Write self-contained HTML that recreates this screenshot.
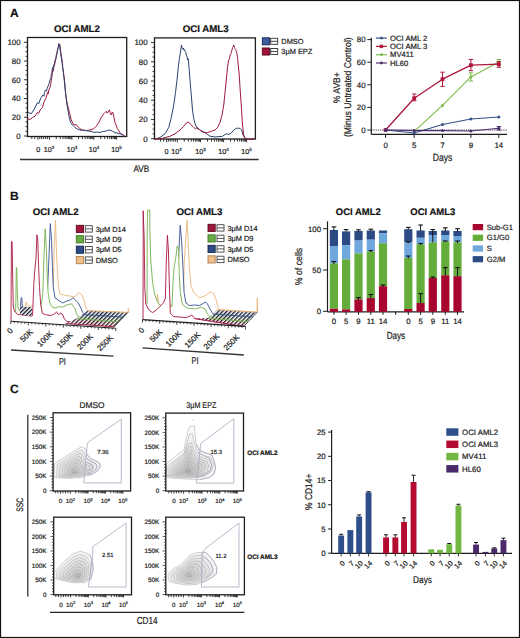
<!DOCTYPE html>
<html><head><meta charset="utf-8"><style>
html,body{margin:0;padding:0;background:#fff;}
svg{display:block;}
text{font-family:"Liberation Sans",sans-serif;text-rendering:geometricPrecision;stroke:#1c1c1c;stroke-width:0.2px;}
</style></head><body>
<svg width="520" height="638" viewBox="0 0 520 638">
<rect width="520" height="638" fill="#fff"/>
<rect x="0.50" y="0.50" width="519.00" height="637.00" fill="none" stroke="#111" stroke-width="1.2" />
<text x="10.00" y="16.60" font-size="12" text-anchor="start" font-weight="bold" fill="#111" >A</text>
<text x="76.90" y="32.20" font-size="9.7" text-anchor="middle" font-weight="bold" fill="#111" >OCI AML2</text>
<text x="205.70" y="32.20" font-size="9.7" text-anchor="middle" font-weight="bold" fill="#111" >OCI AML3</text>
<rect x="27.50" y="37.50" width="99.20" height="99.00" fill="none" stroke="#1e1e1e" stroke-width="1.3" />
<line x1="24.00" y1="136.00" x2="27.50" y2="136.00" stroke="#1e1e1e" stroke-width="0.9" />
<text x="20.60" y="138.80" font-size="7.9" text-anchor="end" font-weight="normal" fill="#222" >0</text>
<line x1="25.50" y1="131.31" x2="27.50" y2="131.31" stroke="#1e1e1e" stroke-width="0.9" />
<line x1="25.50" y1="126.63" x2="27.50" y2="126.63" stroke="#1e1e1e" stroke-width="0.9" />
<line x1="25.50" y1="121.94" x2="27.50" y2="121.94" stroke="#1e1e1e" stroke-width="0.9" />
<line x1="24.00" y1="117.26" x2="27.50" y2="117.26" stroke="#1e1e1e" stroke-width="0.9" />
<text x="20.60" y="120.06" font-size="7.9" text-anchor="end" font-weight="normal" fill="#222" >20</text>
<line x1="25.50" y1="112.58" x2="27.50" y2="112.58" stroke="#1e1e1e" stroke-width="0.9" />
<line x1="25.50" y1="107.89" x2="27.50" y2="107.89" stroke="#1e1e1e" stroke-width="0.9" />
<line x1="25.50" y1="103.20" x2="27.50" y2="103.20" stroke="#1e1e1e" stroke-width="0.9" />
<line x1="24.00" y1="98.52" x2="27.50" y2="98.52" stroke="#1e1e1e" stroke-width="0.9" />
<text x="20.60" y="101.32" font-size="7.9" text-anchor="end" font-weight="normal" fill="#222" >40</text>
<line x1="25.50" y1="93.84" x2="27.50" y2="93.84" stroke="#1e1e1e" stroke-width="0.9" />
<line x1="25.50" y1="89.15" x2="27.50" y2="89.15" stroke="#1e1e1e" stroke-width="0.9" />
<line x1="25.50" y1="84.47" x2="27.50" y2="84.47" stroke="#1e1e1e" stroke-width="0.9" />
<line x1="24.00" y1="79.78" x2="27.50" y2="79.78" stroke="#1e1e1e" stroke-width="0.9" />
<text x="20.60" y="82.58" font-size="7.9" text-anchor="end" font-weight="normal" fill="#222" >60</text>
<line x1="25.50" y1="75.09" x2="27.50" y2="75.09" stroke="#1e1e1e" stroke-width="0.9" />
<line x1="25.50" y1="70.41" x2="27.50" y2="70.41" stroke="#1e1e1e" stroke-width="0.9" />
<line x1="25.50" y1="65.72" x2="27.50" y2="65.72" stroke="#1e1e1e" stroke-width="0.9" />
<line x1="24.00" y1="61.04" x2="27.50" y2="61.04" stroke="#1e1e1e" stroke-width="0.9" />
<text x="20.60" y="63.84" font-size="7.9" text-anchor="end" font-weight="normal" fill="#222" >80</text>
<line x1="25.50" y1="56.36" x2="27.50" y2="56.36" stroke="#1e1e1e" stroke-width="0.9" />
<line x1="25.50" y1="51.67" x2="27.50" y2="51.67" stroke="#1e1e1e" stroke-width="0.9" />
<line x1="25.50" y1="46.98" x2="27.50" y2="46.98" stroke="#1e1e1e" stroke-width="0.9" />
<line x1="24.00" y1="42.30" x2="27.50" y2="42.30" stroke="#1e1e1e" stroke-width="0.9" />
<text x="20.60" y="45.10" font-size="7.9" text-anchor="end" font-weight="normal" fill="#222" >100</text>
<rect x="154.50" y="37.90" width="100.90" height="101.10" fill="none" stroke="#1e1e1e" stroke-width="1.3" />
<line x1="151.00" y1="138.70" x2="154.50" y2="138.70" stroke="#1e1e1e" stroke-width="0.9" />
<text x="147.60" y="141.50" font-size="7.9" text-anchor="end" font-weight="normal" fill="#222" >0</text>
<line x1="152.50" y1="133.89" x2="154.50" y2="133.89" stroke="#1e1e1e" stroke-width="0.9" />
<line x1="152.50" y1="129.09" x2="154.50" y2="129.09" stroke="#1e1e1e" stroke-width="0.9" />
<line x1="152.50" y1="124.28" x2="154.50" y2="124.28" stroke="#1e1e1e" stroke-width="0.9" />
<line x1="151.00" y1="119.48" x2="154.50" y2="119.48" stroke="#1e1e1e" stroke-width="0.9" />
<text x="147.60" y="122.28" font-size="7.9" text-anchor="end" font-weight="normal" fill="#222" >20</text>
<line x1="152.50" y1="114.67" x2="154.50" y2="114.67" stroke="#1e1e1e" stroke-width="0.9" />
<line x1="152.50" y1="109.87" x2="154.50" y2="109.87" stroke="#1e1e1e" stroke-width="0.9" />
<line x1="152.50" y1="105.06" x2="154.50" y2="105.06" stroke="#1e1e1e" stroke-width="0.9" />
<line x1="151.00" y1="100.26" x2="154.50" y2="100.26" stroke="#1e1e1e" stroke-width="0.9" />
<text x="147.60" y="103.06" font-size="7.9" text-anchor="end" font-weight="normal" fill="#222" >40</text>
<line x1="152.50" y1="95.45" x2="154.50" y2="95.45" stroke="#1e1e1e" stroke-width="0.9" />
<line x1="152.50" y1="90.65" x2="154.50" y2="90.65" stroke="#1e1e1e" stroke-width="0.9" />
<line x1="152.50" y1="85.84" x2="154.50" y2="85.84" stroke="#1e1e1e" stroke-width="0.9" />
<line x1="151.00" y1="81.04" x2="154.50" y2="81.04" stroke="#1e1e1e" stroke-width="0.9" />
<text x="147.60" y="83.84" font-size="7.9" text-anchor="end" font-weight="normal" fill="#222" >60</text>
<line x1="152.50" y1="76.23" x2="154.50" y2="76.23" stroke="#1e1e1e" stroke-width="0.9" />
<line x1="152.50" y1="71.43" x2="154.50" y2="71.43" stroke="#1e1e1e" stroke-width="0.9" />
<line x1="152.50" y1="66.62" x2="154.50" y2="66.62" stroke="#1e1e1e" stroke-width="0.9" />
<line x1="151.00" y1="61.82" x2="154.50" y2="61.82" stroke="#1e1e1e" stroke-width="0.9" />
<text x="147.60" y="64.62" font-size="7.9" text-anchor="end" font-weight="normal" fill="#222" >80</text>
<line x1="152.50" y1="57.02" x2="154.50" y2="57.02" stroke="#1e1e1e" stroke-width="0.9" />
<line x1="152.50" y1="52.21" x2="154.50" y2="52.21" stroke="#1e1e1e" stroke-width="0.9" />
<line x1="152.50" y1="47.40" x2="154.50" y2="47.40" stroke="#1e1e1e" stroke-width="0.9" />
<line x1="151.00" y1="42.60" x2="154.50" y2="42.60" stroke="#1e1e1e" stroke-width="0.9" />
<text x="147.60" y="45.40" font-size="7.9" text-anchor="end" font-weight="normal" fill="#222" >100</text>
<line x1="37.80" y1="136.50" x2="37.80" y2="139.70" stroke="#1e1e1e" stroke-width="0.9" />
<line x1="49.50" y1="136.50" x2="49.50" y2="139.70" stroke="#1e1e1e" stroke-width="0.9" />
<line x1="71.90" y1="136.50" x2="71.90" y2="139.70" stroke="#1e1e1e" stroke-width="0.9" />
<line x1="93.90" y1="136.50" x2="93.90" y2="139.70" stroke="#1e1e1e" stroke-width="0.9" />
<line x1="116.60" y1="136.50" x2="116.60" y2="139.70" stroke="#1e1e1e" stroke-width="0.9" />
<line x1="39.75" y1="136.50" x2="39.75" y2="139.10" stroke="#1e1e1e" stroke-width="0.9" />
<line x1="41.70" y1="136.50" x2="41.70" y2="139.10" stroke="#1e1e1e" stroke-width="0.9" />
<line x1="43.65" y1="136.50" x2="43.65" y2="139.10" stroke="#1e1e1e" stroke-width="0.9" />
<line x1="45.60" y1="136.50" x2="45.60" y2="139.10" stroke="#1e1e1e" stroke-width="0.9" />
<line x1="47.55" y1="136.50" x2="47.55" y2="139.10" stroke="#1e1e1e" stroke-width="0.9" />
<line x1="56.24" y1="136.50" x2="56.24" y2="139.10" stroke="#1e1e1e" stroke-width="0.9" />
<line x1="60.19" y1="136.50" x2="60.19" y2="139.10" stroke="#1e1e1e" stroke-width="0.9" />
<line x1="62.99" y1="136.50" x2="62.99" y2="139.10" stroke="#1e1e1e" stroke-width="0.9" />
<line x1="65.16" y1="136.50" x2="65.16" y2="139.10" stroke="#1e1e1e" stroke-width="0.9" />
<line x1="66.93" y1="136.50" x2="66.93" y2="139.10" stroke="#1e1e1e" stroke-width="0.9" />
<line x1="68.43" y1="136.50" x2="68.43" y2="139.10" stroke="#1e1e1e" stroke-width="0.9" />
<line x1="69.73" y1="136.50" x2="69.73" y2="139.10" stroke="#1e1e1e" stroke-width="0.9" />
<line x1="70.88" y1="136.50" x2="70.88" y2="139.10" stroke="#1e1e1e" stroke-width="0.9" />
<line x1="78.52" y1="136.50" x2="78.52" y2="139.10" stroke="#1e1e1e" stroke-width="0.9" />
<line x1="82.40" y1="136.50" x2="82.40" y2="139.10" stroke="#1e1e1e" stroke-width="0.9" />
<line x1="85.15" y1="136.50" x2="85.15" y2="139.10" stroke="#1e1e1e" stroke-width="0.9" />
<line x1="87.28" y1="136.50" x2="87.28" y2="139.10" stroke="#1e1e1e" stroke-width="0.9" />
<line x1="89.02" y1="136.50" x2="89.02" y2="139.10" stroke="#1e1e1e" stroke-width="0.9" />
<line x1="90.49" y1="136.50" x2="90.49" y2="139.10" stroke="#1e1e1e" stroke-width="0.9" />
<line x1="91.77" y1="136.50" x2="91.77" y2="139.10" stroke="#1e1e1e" stroke-width="0.9" />
<line x1="92.89" y1="136.50" x2="92.89" y2="139.10" stroke="#1e1e1e" stroke-width="0.9" />
<line x1="100.73" y1="136.50" x2="100.73" y2="139.10" stroke="#1e1e1e" stroke-width="0.9" />
<line x1="104.73" y1="136.50" x2="104.73" y2="139.10" stroke="#1e1e1e" stroke-width="0.9" />
<line x1="107.57" y1="136.50" x2="107.57" y2="139.10" stroke="#1e1e1e" stroke-width="0.9" />
<line x1="109.77" y1="136.50" x2="109.77" y2="139.10" stroke="#1e1e1e" stroke-width="0.9" />
<line x1="111.56" y1="136.50" x2="111.56" y2="139.10" stroke="#1e1e1e" stroke-width="0.9" />
<line x1="113.08" y1="136.50" x2="113.08" y2="139.10" stroke="#1e1e1e" stroke-width="0.9" />
<line x1="114.40" y1="136.50" x2="114.40" y2="139.10" stroke="#1e1e1e" stroke-width="0.9" />
<line x1="115.56" y1="136.50" x2="115.56" y2="139.10" stroke="#1e1e1e" stroke-width="0.9" />
<line x1="34.80" y1="136.50" x2="34.80" y2="139.10" stroke="#1e1e1e" stroke-width="0.9" />
<line x1="31.80" y1="136.50" x2="31.80" y2="139.10" stroke="#1e1e1e" stroke-width="0.9" />
<text x="38.30" y="151.80" font-size="7.2" text-anchor="middle" font-weight="normal" fill="#222" >0</text>
<text x="49.00" y="151.80" font-size="7.2" text-anchor="middle" fill="#222">10<tspan font-size="4.46" dy="-2.88">2</tspan></text>
<text x="71.90" y="151.80" font-size="7.2" text-anchor="middle" fill="#222">10<tspan font-size="4.46" dy="-2.88">3</tspan></text>
<text x="93.90" y="151.80" font-size="7.2" text-anchor="middle" fill="#222">10<tspan font-size="4.46" dy="-2.88">4</tspan></text>
<text x="116.60" y="151.80" font-size="7.2" text-anchor="middle" fill="#222">10<tspan font-size="4.46" dy="-2.88">5</tspan></text>
<line x1="166.60" y1="139.00" x2="166.60" y2="142.20" stroke="#1e1e1e" stroke-width="0.9" />
<line x1="177.30" y1="139.00" x2="177.30" y2="142.20" stroke="#1e1e1e" stroke-width="0.9" />
<line x1="200.50" y1="139.00" x2="200.50" y2="142.20" stroke="#1e1e1e" stroke-width="0.9" />
<line x1="223.60" y1="139.00" x2="223.60" y2="142.20" stroke="#1e1e1e" stroke-width="0.9" />
<line x1="246.60" y1="139.00" x2="246.60" y2="142.20" stroke="#1e1e1e" stroke-width="0.9" />
<line x1="168.38" y1="139.00" x2="168.38" y2="141.60" stroke="#1e1e1e" stroke-width="0.9" />
<line x1="170.17" y1="139.00" x2="170.17" y2="141.60" stroke="#1e1e1e" stroke-width="0.9" />
<line x1="171.95" y1="139.00" x2="171.95" y2="141.60" stroke="#1e1e1e" stroke-width="0.9" />
<line x1="173.73" y1="139.00" x2="173.73" y2="141.60" stroke="#1e1e1e" stroke-width="0.9" />
<line x1="175.52" y1="139.00" x2="175.52" y2="141.60" stroke="#1e1e1e" stroke-width="0.9" />
<line x1="184.28" y1="139.00" x2="184.28" y2="141.60" stroke="#1e1e1e" stroke-width="0.9" />
<line x1="188.37" y1="139.00" x2="188.37" y2="141.60" stroke="#1e1e1e" stroke-width="0.9" />
<line x1="191.27" y1="139.00" x2="191.27" y2="141.60" stroke="#1e1e1e" stroke-width="0.9" />
<line x1="193.52" y1="139.00" x2="193.52" y2="141.60" stroke="#1e1e1e" stroke-width="0.9" />
<line x1="195.35" y1="139.00" x2="195.35" y2="141.60" stroke="#1e1e1e" stroke-width="0.9" />
<line x1="196.91" y1="139.00" x2="196.91" y2="141.60" stroke="#1e1e1e" stroke-width="0.9" />
<line x1="198.25" y1="139.00" x2="198.25" y2="141.60" stroke="#1e1e1e" stroke-width="0.9" />
<line x1="199.44" y1="139.00" x2="199.44" y2="141.60" stroke="#1e1e1e" stroke-width="0.9" />
<line x1="207.45" y1="139.00" x2="207.45" y2="141.60" stroke="#1e1e1e" stroke-width="0.9" />
<line x1="211.52" y1="139.00" x2="211.52" y2="141.60" stroke="#1e1e1e" stroke-width="0.9" />
<line x1="214.41" y1="139.00" x2="214.41" y2="141.60" stroke="#1e1e1e" stroke-width="0.9" />
<line x1="216.65" y1="139.00" x2="216.65" y2="141.60" stroke="#1e1e1e" stroke-width="0.9" />
<line x1="218.48" y1="139.00" x2="218.48" y2="141.60" stroke="#1e1e1e" stroke-width="0.9" />
<line x1="220.02" y1="139.00" x2="220.02" y2="141.60" stroke="#1e1e1e" stroke-width="0.9" />
<line x1="221.36" y1="139.00" x2="221.36" y2="141.60" stroke="#1e1e1e" stroke-width="0.9" />
<line x1="222.54" y1="139.00" x2="222.54" y2="141.60" stroke="#1e1e1e" stroke-width="0.9" />
<line x1="230.52" y1="139.00" x2="230.52" y2="141.60" stroke="#1e1e1e" stroke-width="0.9" />
<line x1="234.57" y1="139.00" x2="234.57" y2="141.60" stroke="#1e1e1e" stroke-width="0.9" />
<line x1="237.45" y1="139.00" x2="237.45" y2="141.60" stroke="#1e1e1e" stroke-width="0.9" />
<line x1="239.68" y1="139.00" x2="239.68" y2="141.60" stroke="#1e1e1e" stroke-width="0.9" />
<line x1="241.50" y1="139.00" x2="241.50" y2="141.60" stroke="#1e1e1e" stroke-width="0.9" />
<line x1="243.04" y1="139.00" x2="243.04" y2="141.60" stroke="#1e1e1e" stroke-width="0.9" />
<line x1="244.37" y1="139.00" x2="244.37" y2="141.60" stroke="#1e1e1e" stroke-width="0.9" />
<line x1="245.55" y1="139.00" x2="245.55" y2="141.60" stroke="#1e1e1e" stroke-width="0.9" />
<line x1="163.60" y1="139.00" x2="163.60" y2="141.60" stroke="#1e1e1e" stroke-width="0.9" />
<line x1="160.60" y1="139.00" x2="160.60" y2="141.60" stroke="#1e1e1e" stroke-width="0.9" />
<text x="166.60" y="154.30" font-size="7.2" text-anchor="middle" font-weight="normal" fill="#222" >0</text>
<text x="176.60" y="154.30" font-size="7.2" text-anchor="middle" fill="#222">10<tspan font-size="4.46" dy="-2.88">2</tspan></text>
<text x="200.50" y="154.30" font-size="7.2" text-anchor="middle" fill="#222">10<tspan font-size="4.46" dy="-2.88">3</tspan></text>
<text x="223.60" y="154.30" font-size="7.2" text-anchor="middle" fill="#222">10<tspan font-size="4.46" dy="-2.88">4</tspan></text>
<text x="246.60" y="154.30" font-size="7.2" text-anchor="middle" fill="#222">10<tspan font-size="4.46" dy="-2.88">5</tspan></text>
<line x1="20.00" y1="159.50" x2="258.70" y2="159.50" stroke="#333" stroke-width="1.3" />
<text x="141.30" y="172.40" font-size="9.6" text-anchor="middle" font-weight="normal" fill="#222" textLength="15.8" lengthAdjust="spacingAndGlyphs">AVB</text>
<path d="M27.00,118.75 L30.00,119.50 L32.50,117.50 L35.00,116.25 L37.50,112.50 L38.75,113.25 L40.00,110.00 L42.50,107.50 L43.75,102.50 L45.00,100.00 L46.25,97.50 L47.50,92.50 L48.25,93.75 L48.75,90.00 L50.00,87.50 L50.75,83.75 L51.25,80.00 L52.00,76.25 L52.50,70.00 L53.25,71.25 L53.75,67.50 L54.50,65.00 L55.50,60.00 L56.50,56.25 L57.50,50.00 L58.25,47.50 L59.00,43.75 L60.00,45.00 L60.50,50.00 L61.25,55.00 L62.00,60.00 L62.50,67.50 L63.25,70.00 L63.75,75.00 L64.50,80.00 L65.50,92.50 L66.50,100.00 L67.50,105.00 L69.50,112.50 L71.25,120.00 L73.00,123.75 L75.00,125.00 L76.25,124.50 L77.50,126.25 L80.00,128.75 L82.50,130.00 L86.25,130.50 L90.00,130.00 L93.75,128.75 L96.25,126.25 L98.75,122.50 L101.25,117.50 L103.75,113.75 L105.00,112.50 L106.25,111.25 L107.00,113.00 L108.00,112.50 L108.75,110.50 L109.50,110.00 L110.50,113.75 L111.25,115.00 L112.00,112.50 L113.00,112.50 L114.00,117.50 L115.00,122.50 L117.50,128.75 L120.00,132.50 L122.50,135.00 L125.00,136.25" stroke="#a01a3c" stroke-width="1.0" fill="none" stroke-linejoin="round" />
<path d="M27.00,113.75 L28.75,112.50 L31.25,113.75 L33.75,110.00 L36.25,105.00 L37.50,102.50 L38.75,103.75 L40.00,100.00 L41.25,97.50 L43.00,95.00 L44.00,96.25 L44.50,92.50 L45.50,90.00 L46.50,91.25 L47.00,88.75 L48.00,86.25 L49.00,83.75 L50.00,80.00 L50.75,78.75 L51.25,75.00 L52.00,72.50 L52.50,67.50 L53.25,68.75 L53.75,65.00 L54.50,63.75 L55.00,60.00 L55.75,59.50 L56.25,55.00 L57.00,53.75 L57.50,50.00 L58.25,47.50 L58.75,43.75 L59.50,44.50 L60.00,48.75 L60.50,52.50 L61.25,57.50 L62.00,62.50 L62.50,63.75 L63.00,70.00 L64.00,77.50 L65.50,92.50 L67.00,105.00 L68.75,115.00 L70.50,122.50 L72.50,125.00 L75.00,127.50 L77.50,129.00 L80.00,130.00 L85.00,130.50 L90.00,131.25 L95.00,132.50 L97.50,132.00 L100.00,132.50 L102.50,131.50 L105.00,131.25 L107.50,130.50 L110.00,130.00 L112.50,131.25 L115.00,132.50 L120.00,133.75 L123.75,135.00" stroke="#2b4270" stroke-width="1.0" fill="none" stroke-linejoin="round" />
<path d="M154.25,139.25 L160.00,137.50 L165.00,133.75 L168.75,127.50 L171.25,117.50 L173.75,105.00 L175.50,92.50 L177.00,80.00 L178.25,67.50 L179.50,57.50 L180.25,53.75 L180.75,50.00 L181.50,45.00 L182.00,47.50 L182.50,48.75 L183.25,48.00 L183.75,50.00 L184.50,49.50 L185.00,51.25 L185.75,52.50 L186.25,55.00 L187.00,56.25 L187.50,60.00 L188.25,58.75 L189.00,67.50 L190.00,80.00 L191.25,95.00 L192.50,110.00 L193.75,118.75 L195.50,125.00 L197.50,128.75 L200.00,130.00 L202.50,131.25 L205.00,132.50 L210.00,136.25 L215.00,137.00 L222.50,136.25 L226.25,133.75 L228.75,134.50 L231.25,133.00 L233.75,130.00 L236.25,128.25 L240.00,128.25 L241.75,130.00 L243.00,135.00 L245.00,138.25 L247.50,139.25 L254.25,139.25" stroke="#2b4270" stroke-width="1.0" fill="none" stroke-linejoin="round" />
<path d="M154.25,139.25 L162.50,138.25 L170.00,136.25 L175.00,133.75 L180.00,130.00 L183.75,126.25 L186.25,123.00 L188.00,122.00 L189.50,123.00 L191.25,125.00 L193.75,127.50 L195.50,128.75 L197.50,127.50 L199.50,129.50 L201.25,131.25 L203.75,132.50 L207.50,132.50 L211.25,131.25 L215.00,130.00 L217.50,127.50 L220.00,122.50 L222.00,115.00 L223.75,105.00 L225.00,92.50 L226.25,80.00 L227.50,67.50 L228.25,62.50 L228.75,60.00 L229.50,58.75 L230.00,55.00 L230.75,54.50 L231.25,52.50 L232.00,50.00 L232.50,47.50 L233.25,47.00 L233.75,45.00 L234.50,47.50 L235.00,48.75 L235.75,49.50 L236.25,51.25 L237.00,53.75 L237.50,57.50 L238.25,65.00 L239.25,75.00 L240.00,87.50 L241.25,105.00 L242.50,125.00 L243.75,135.00 L245.00,138.25 L248.75,139.25 L254.25,139.25" stroke="#a01a3c" stroke-width="1.0" fill="none" stroke-linejoin="round" />
<rect x="262.40" y="37.80" width="7.00" height="7.00" fill="#3f5d9c" stroke="#1a2d5c" stroke-width="1" />
<rect x="270.70" y="38.30" width="7.00" height="6.00" fill="#fff" stroke="#333" stroke-width="0.9" />
<line x1="270.70" y1="41.30" x2="277.70" y2="41.30" stroke="#333" stroke-width="0.9" />
<text x="281.30" y="44.00" font-size="7.4" text-anchor="start" font-weight="normal" fill="#222" >DMSO</text>
<rect x="262.40" y="48.00" width="7.00" height="7.00" fill="#a3123a" stroke="#5a0a1e" stroke-width="1" />
<rect x="270.70" y="48.50" width="7.00" height="6.00" fill="#fff" stroke="#333" stroke-width="0.9" />
<line x1="270.70" y1="51.50" x2="277.70" y2="51.50" stroke="#333" stroke-width="0.9" />
<text x="281.30" y="54.20" font-size="7.4" text-anchor="start" font-weight="normal" fill="#222" >3μM EPZ</text>
<line x1="371.30" y1="37.80" x2="371.30" y2="134.40" stroke="#1e1e1e" stroke-width="1.2" />
<line x1="371.30" y1="134.40" x2="507.00" y2="134.40" stroke="#1e1e1e" stroke-width="1.2" />
<line x1="367.30" y1="130.00" x2="371.30" y2="130.00" stroke="#1e1e1e" stroke-width="1" />
<text x="365.60" y="132.80" font-size="7.9" text-anchor="end" font-weight="normal" fill="#222" >0</text>
<line x1="367.30" y1="107.40" x2="371.30" y2="107.40" stroke="#1e1e1e" stroke-width="1" />
<text x="365.60" y="110.20" font-size="7.9" text-anchor="end" font-weight="normal" fill="#222" >20</text>
<line x1="367.30" y1="84.80" x2="371.30" y2="84.80" stroke="#1e1e1e" stroke-width="1" />
<text x="365.60" y="87.60" font-size="7.9" text-anchor="end" font-weight="normal" fill="#222" >40</text>
<line x1="367.30" y1="62.20" x2="371.30" y2="62.20" stroke="#1e1e1e" stroke-width="1" />
<text x="365.60" y="65.00" font-size="7.9" text-anchor="end" font-weight="normal" fill="#222" >60</text>
<line x1="367.30" y1="39.60" x2="371.30" y2="39.60" stroke="#1e1e1e" stroke-width="1" />
<text x="365.60" y="42.40" font-size="7.9" text-anchor="end" font-weight="normal" fill="#222" >80</text>
<line x1="385.60" y1="134.40" x2="385.60" y2="137.90" stroke="#1e1e1e" stroke-width="1" />
<text x="385.60" y="147.60" font-size="7.9" text-anchor="middle" font-weight="normal" fill="#222" >0</text>
<line x1="414.20" y1="134.40" x2="414.20" y2="137.90" stroke="#1e1e1e" stroke-width="1" />
<text x="414.20" y="147.60" font-size="7.9" text-anchor="middle" font-weight="normal" fill="#222" >5</text>
<line x1="442.50" y1="134.40" x2="442.50" y2="137.90" stroke="#1e1e1e" stroke-width="1" />
<text x="442.50" y="147.60" font-size="7.9" text-anchor="middle" font-weight="normal" fill="#222" >7</text>
<line x1="470.90" y1="134.40" x2="470.90" y2="137.90" stroke="#1e1e1e" stroke-width="1" />
<text x="470.90" y="147.60" font-size="7.9" text-anchor="middle" font-weight="normal" fill="#222" >9</text>
<line x1="498.80" y1="134.40" x2="498.80" y2="137.90" stroke="#1e1e1e" stroke-width="1" />
<text x="498.80" y="147.60" font-size="7.9" text-anchor="middle" font-weight="normal" fill="#222" >14</text>
<text x="442.50" y="160.80" font-size="10.5" text-anchor="middle" font-weight="normal" fill="#222" textLength="19.6" lengthAdjust="spacingAndGlyphs">Days</text>
<text transform="translate(339.6,87.7) rotate(-90)" font-size="9.6" text-anchor="middle" fill="#1a1a1a" textLength="31" lengthAdjust="spacingAndGlyphs">% AVB+</text>
<text transform="translate(351.1,87.2) rotate(-90)" font-size="9.7" text-anchor="middle" fill="#1a1a1a" textLength="99.8" lengthAdjust="spacingAndGlyphs">(Minus Untreated Control)</text>
<line x1="371.30" y1="130.00" x2="507.00" y2="130.00" stroke="#1a1a1a" stroke-width="0.9" stroke-dasharray="1.1 1.1"/>
<path d="M414.20,131.40 L442.50,105.40 L470.90,76.90 L498.80,62.00" stroke="#7cba4a" stroke-width="1.1" fill="none" stroke-linejoin="round" />
<circle cx="414.20" cy="131.40" r="1.5" fill="#7cba4a"/>
<circle cx="442.50" cy="105.40" r="1.5" fill="#7cba4a"/>
<line x1="470.90" y1="72.80" x2="470.90" y2="81.00" stroke="#7cba4a" stroke-width="1" />
<line x1="468.70" y1="72.80" x2="473.10" y2="72.80" stroke="#7cba4a" stroke-width="1" />
<line x1="468.70" y1="81.00" x2="473.10" y2="81.00" stroke="#7cba4a" stroke-width="1" />
<circle cx="470.90" cy="76.90" r="1.5" fill="#7cba4a"/>
<line x1="498.80" y1="59.50" x2="498.80" y2="64.50" stroke="#7cba4a" stroke-width="1" />
<line x1="496.60" y1="59.50" x2="501.00" y2="59.50" stroke="#7cba4a" stroke-width="1" />
<line x1="496.60" y1="64.50" x2="501.00" y2="64.50" stroke="#7cba4a" stroke-width="1" />
<circle cx="498.80" cy="62.00" r="1.5" fill="#7cba4a"/>
<path d="M385.60,130.00 L414.20,98.20 L442.50,79.20 L470.90,65.20 L498.80,64.20" stroke="#b0163c" stroke-width="1.3" fill="none" stroke-linejoin="round" />
<rect x="383.70" y="128.10" width="3.80" height="3.80" fill="#b0163c" stroke="none" stroke-width="1" />
<line x1="414.20" y1="94.00" x2="414.20" y2="100.80" stroke="#b0163c" stroke-width="1" />
<line x1="412.00" y1="94.00" x2="416.40" y2="94.00" stroke="#b0163c" stroke-width="1" />
<line x1="412.00" y1="100.80" x2="416.40" y2="100.80" stroke="#b0163c" stroke-width="1" />
<rect x="412.30" y="96.30" width="3.80" height="3.80" fill="#b0163c" stroke="none" stroke-width="1" />
<line x1="442.50" y1="72.20" x2="442.50" y2="86.40" stroke="#b0163c" stroke-width="1" />
<line x1="440.30" y1="72.20" x2="444.70" y2="72.20" stroke="#b0163c" stroke-width="1" />
<line x1="440.30" y1="86.40" x2="444.70" y2="86.40" stroke="#b0163c" stroke-width="1" />
<rect x="440.60" y="77.30" width="3.80" height="3.80" fill="#b0163c" stroke="none" stroke-width="1" />
<line x1="470.90" y1="59.50" x2="470.90" y2="70.70" stroke="#b0163c" stroke-width="1" />
<line x1="468.70" y1="59.50" x2="473.10" y2="59.50" stroke="#b0163c" stroke-width="1" />
<line x1="468.70" y1="70.70" x2="473.10" y2="70.70" stroke="#b0163c" stroke-width="1" />
<rect x="469.00" y="63.30" width="3.80" height="3.80" fill="#b0163c" stroke="none" stroke-width="1" />
<line x1="498.80" y1="61.60" x2="498.80" y2="67.30" stroke="#b0163c" stroke-width="1" />
<line x1="496.60" y1="61.60" x2="501.00" y2="61.60" stroke="#b0163c" stroke-width="1" />
<line x1="496.60" y1="67.30" x2="501.00" y2="67.30" stroke="#b0163c" stroke-width="1" />
<rect x="496.90" y="62.30" width="3.80" height="3.80" fill="#b0163c" stroke="none" stroke-width="1" />
<path d="M385.60,130.00 L414.20,133.00 L442.50,124.50 L470.90,119.00 L498.80,117.00" stroke="#34508a" stroke-width="1.1" fill="none" stroke-linejoin="round" />
<circle cx="385.60" cy="130.00" r="1.5" fill="#34508a"/>
<circle cx="414.20" cy="133.00" r="1.5" fill="#34508a"/>
<circle cx="442.50" cy="124.50" r="1.5" fill="#34508a"/>
<circle cx="470.90" cy="119.00" r="1.5" fill="#34508a"/>
<circle cx="498.80" cy="117.00" r="1.5" fill="#34508a"/>
<path d="M385.60,130.00 L414.20,130.60 L442.50,130.60 L470.90,131.00 L498.80,128.30" stroke="#4d2f6e" stroke-width="1.1" fill="none" stroke-linejoin="round" />
<circle cx="385.60" cy="130.00" r="1.5" fill="#4d2f6e"/>
<circle cx="414.20" cy="130.60" r="1.5" fill="#4d2f6e"/>
<circle cx="442.50" cy="130.60" r="1.5" fill="#4d2f6e"/>
<circle cx="470.90" cy="131.00" r="1.5" fill="#4d2f6e"/>
<line x1="498.80" y1="126.60" x2="498.80" y2="130.00" stroke="#4d2f6e" stroke-width="1" />
<line x1="496.60" y1="126.60" x2="501.00" y2="126.60" stroke="#4d2f6e" stroke-width="1" />
<line x1="496.60" y1="130.00" x2="501.00" y2="130.00" stroke="#4d2f6e" stroke-width="1" />
<circle cx="498.80" cy="128.30" r="1.5" fill="#4d2f6e"/>
<line x1="376.00" y1="38.10" x2="386.80" y2="38.10" stroke="#34508a" stroke-width="1.2" />
<circle cx="381.4" cy="38.10" r="1.4" fill="#34508a"/>
<text x="390.00" y="40.80" font-size="7.7" text-anchor="start" font-weight="normal" fill="#222" >OCI AML 2</text>
<line x1="376.00" y1="46.40" x2="386.80" y2="46.40" stroke="#b0163c" stroke-width="1.2" />
<rect x="379.70" y="44.70" width="3.40" height="3.40" fill="#b0163c" stroke="none" stroke-width="1" />
<text x="390.00" y="49.10" font-size="7.7" text-anchor="start" font-weight="normal" fill="#222" >OCI AML 3</text>
<line x1="376.00" y1="54.70" x2="386.80" y2="54.70" stroke="#7cba4a" stroke-width="1.2" />
<circle cx="381.4" cy="54.70" r="1.4" fill="#7cba4a"/>
<text x="390.00" y="57.40" font-size="7.7" text-anchor="start" font-weight="normal" fill="#222" >MV411</text>
<line x1="376.00" y1="63.00" x2="386.80" y2="63.00" stroke="#4d2f6e" stroke-width="1.2" />
<circle cx="381.4" cy="63.00" r="1.4" fill="#4d2f6e"/>
<text x="390.00" y="65.70" font-size="7.7" text-anchor="start" font-weight="normal" fill="#222" >HL60</text>
<text x="10.00" y="200.20" font-size="12" text-anchor="start" font-weight="bold" fill="#111" >B</text>
<text x="55.70" y="214.80" font-size="9.7" text-anchor="middle" font-weight="bold" fill="#111" >OCI AML2</text>
<text x="199.40" y="215.00" font-size="9.7" text-anchor="middle" font-weight="bold" fill="#111" >OCI AML3</text>
<defs><pattern id="hatch" patternUnits="userSpaceOnUse" width="2.9" height="2.9" patternTransform="rotate(45)"><rect width="2.9" height="2.9" fill="#fff"/><rect width="1.35" height="2.9" fill="#141a2e"/></pattern><pattern id="hatch0" patternUnits="userSpaceOnUse" width="2.9" height="2.9" patternTransform="rotate(45)"><rect width="2.9" height="2.9" fill="#fff"/><rect width="1.35" height="2.9" fill="#3a0c18"/></pattern><pattern id="hatch1" patternUnits="userSpaceOnUse" width="2.9" height="2.9" patternTransform="rotate(45)"><rect width="2.9" height="2.9" fill="#fff"/><rect width="1.35" height="2.9" fill="#16261a"/></pattern><pattern id="hatch2" patternUnits="userSpaceOnUse" width="2.9" height="2.9" patternTransform="rotate(45)"><rect width="2.9" height="2.9" fill="#fff"/><rect width="1.35" height="2.9" fill="#121a34"/></pattern><radialGradient id="cg" cx="50%" cy="50%" r="50%"><stop offset="0" stop-color="#888"/><stop offset="1" stop-color="#bbb" stop-opacity="0"/></radialGradient></defs>
<rect x="76.30" y="225.30" width="7.20" height="7.20" fill="#a0163a" stroke="#5a0a1e" stroke-width="0.9" />
<rect x="85.30" y="225.70" width="7.00" height="6.40" fill="#fff" stroke="#444" stroke-width="0.9" />
<line x1="85.30" y1="228.90" x2="92.30" y2="228.90" stroke="#444" stroke-width="0.9" />
<text x="95.70" y="231.50" font-size="7.4" text-anchor="start" font-weight="normal" fill="#222" >3μM D14</text>
<rect x="76.30" y="235.70" width="7.20" height="7.20" fill="#6aaa45" stroke="#3d7a25" stroke-width="0.9" />
<rect x="85.30" y="236.10" width="7.00" height="6.40" fill="#fff" stroke="#444" stroke-width="0.9" />
<line x1="85.30" y1="239.30" x2="92.30" y2="239.30" stroke="#444" stroke-width="0.9" />
<text x="95.70" y="241.90" font-size="7.4" text-anchor="start" font-weight="normal" fill="#222" >3μM D9</text>
<rect x="76.30" y="246.10" width="7.20" height="7.20" fill="#2c4a88" stroke="#16254a" stroke-width="0.9" />
<rect x="85.30" y="246.50" width="7.00" height="6.40" fill="#fff" stroke="#444" stroke-width="0.9" />
<line x1="85.30" y1="249.70" x2="92.30" y2="249.70" stroke="#444" stroke-width="0.9" />
<text x="95.70" y="252.30" font-size="7.4" text-anchor="start" font-weight="normal" fill="#222" >3μM D5</text>
<rect x="76.30" y="256.50" width="7.20" height="7.20" fill="#f0c08a" stroke="#b08050" stroke-width="0.9" />
<rect x="85.30" y="256.90" width="7.00" height="6.40" fill="#fff" stroke="#444" stroke-width="0.9" />
<line x1="85.30" y1="260.10" x2="92.30" y2="260.10" stroke="#444" stroke-width="0.9" />
<text x="95.70" y="262.70" font-size="7.4" text-anchor="start" font-weight="normal" fill="#222" >DMSO</text>
<rect x="208.00" y="224.30" width="7.20" height="7.20" fill="#a0163a" stroke="#5a0a1e" stroke-width="0.9" />
<rect x="217.00" y="224.70" width="7.00" height="6.40" fill="#fff" stroke="#444" stroke-width="0.9" />
<line x1="217.00" y1="227.90" x2="224.00" y2="227.90" stroke="#444" stroke-width="0.9" />
<text x="227.40" y="230.50" font-size="7.4" text-anchor="start" font-weight="normal" fill="#222" >3μM D14</text>
<rect x="208.00" y="234.80" width="7.20" height="7.20" fill="#6aaa45" stroke="#3d7a25" stroke-width="0.9" />
<rect x="217.00" y="235.20" width="7.00" height="6.40" fill="#fff" stroke="#444" stroke-width="0.9" />
<line x1="217.00" y1="238.40" x2="224.00" y2="238.40" stroke="#444" stroke-width="0.9" />
<text x="227.40" y="241.00" font-size="7.4" text-anchor="start" font-weight="normal" fill="#222" >3μM D9</text>
<rect x="208.00" y="245.30" width="7.20" height="7.20" fill="#2c4a88" stroke="#16254a" stroke-width="0.9" />
<rect x="217.00" y="245.70" width="7.00" height="6.40" fill="#fff" stroke="#444" stroke-width="0.9" />
<line x1="217.00" y1="248.90" x2="224.00" y2="248.90" stroke="#444" stroke-width="0.9" />
<text x="227.40" y="251.50" font-size="7.4" text-anchor="start" font-weight="normal" fill="#222" >3μM D5</text>
<rect x="208.00" y="255.80" width="7.20" height="7.20" fill="#f0c08a" stroke="#b08050" stroke-width="0.9" />
<rect x="217.00" y="256.20" width="7.00" height="6.40" fill="#fff" stroke="#444" stroke-width="0.9" />
<line x1="217.00" y1="259.40" x2="224.00" y2="259.40" stroke="#444" stroke-width="0.9" />
<text x="227.40" y="262.00" font-size="7.4" text-anchor="start" font-weight="normal" fill="#222" >DMSO</text>
<path d="M24.80,306.60 L25.50,305.00 L26.30,302.00 L27.00,305.00 L28.00,306.00 L40.00,306.00 L52.00,305.50 L53.30,287.00 L54.10,249.50 L55.50,220.20 L56.70,258.10 L58.40,287.40 L60.20,294.30 L64.50,295.20 L69.70,296.00 L74.80,296.90 L78.30,292.60 L81.70,294.30 L84.30,301.20 L86.00,308.10 L88.60,311.00 L127.80,312.60 L128.30,308.50 L128.80,312.60 L128.80,313.04 L24.80,306.80 Z" stroke="none" stroke-width="1" fill="#fff" stroke-linejoin="round" />
<path d="M24.80,306.60 L25.50,305.00 L26.30,302.00 L27.00,305.00 L28.00,306.00 L40.00,306.00 L52.00,305.50 L53.30,287.00 L54.10,249.50 L55.50,220.20 L56.70,258.10 L58.40,287.40 L60.20,294.30 L64.50,295.20 L69.70,296.00 L74.80,296.90 L78.30,292.60 L81.70,294.30 L84.30,301.20 L86.00,308.10 L88.60,311.00 L127.80,312.60 L128.30,308.50 L128.80,312.60" stroke="#ebb678" stroke-width="0.9" fill="none" stroke-linejoin="round" />
<path d="M20.20,311.50 L21.00,300.00 L21.30,297.50 L21.80,298.00 L22.30,306.00 L23.50,308.50 L27.00,309.00 L32.00,309.50 L46.00,309.00 L47.50,290.00 L48.60,266.70 L50.30,223.60 L51.60,240.90 L52.40,266.70 L53.30,287.40 L55.00,297.80 L58.40,300.30 L62.80,303.00 L66.20,301.20 L69.70,300.30 L73.10,297.80 L75.70,300.30 L78.30,303.00 L80.90,308.10 L82.60,312.40 L84.00,314.00 L123.40,317.50 L123.40,317.79 L20.20,311.60 Z" stroke="none" stroke-width="1" fill="#fff" stroke-linejoin="round" />
<path d="M20.20,311.50 L21.00,300.00 L21.30,297.50 L21.80,298.00 L22.30,306.00 L23.50,308.50 L27.00,309.00 L32.00,309.50 L46.00,309.00 L47.50,290.00 L48.60,266.70 L50.30,223.60 L51.60,240.90 L52.40,266.70 L53.30,287.40 L55.00,297.80 L58.40,300.30 L62.80,303.00 L66.20,301.20 L69.70,300.30 L73.10,297.80 L75.70,300.30 L78.30,303.00 L80.90,308.10 L82.60,312.40 L84.00,314.00 L123.40,317.50" stroke="#34508f" stroke-width="0.9" fill="none" stroke-linejoin="round" />
<path d="M15.60,317.00 L16.00,290.00 L16.30,267.50 L16.80,268.00 L17.30,292.50 L18.00,307.50 L19.50,311.00 L22.00,312.00 L30.00,312.50 L40.00,312.00 L42.00,300.00 L42.90,292.60 L43.80,260.00 L45.20,228.80 L46.40,249.50 L47.20,275.30 L48.10,292.60 L49.80,303.00 L52.40,307.20 L55.90,308.10 L59.30,306.40 L62.80,307.20 L67.10,304.70 L71.40,303.80 L74.80,308.10 L76.60,314.10 L78.30,316.50 L118.80,322.00 L118.80,322.59 L15.60,316.40 Z" stroke="none" stroke-width="1" fill="#fff" stroke-linejoin="round" />
<path d="M15.60,317.00 L16.00,290.00 L16.30,267.50 L16.80,268.00 L17.30,292.50 L18.00,307.50 L19.50,311.00 L22.00,312.00 L30.00,312.50 L40.00,312.00 L42.00,300.00 L42.90,292.60 L43.80,260.00 L45.20,228.80 L46.40,249.50 L47.20,275.30 L48.10,292.60 L49.80,303.00 L52.40,307.20 L55.90,308.10 L59.30,306.40 L62.80,307.20 L67.10,304.70 L71.40,303.80 L74.80,308.10 L76.60,314.10 L78.30,316.50 L118.80,322.00" stroke="#72b04a" stroke-width="0.9" fill="none" stroke-linejoin="round" />
<path d="M11.00,321.00 L11.30,260.00 L11.50,241.30 L12.10,242.00 L12.60,272.00 L13.30,307.00 L14.50,311.00 L17.30,314.20 L22.00,315.00 L27.00,315.50 L31.90,316.20 L32.60,315.00 L33.80,284.00 L34.80,270.20 L36.00,258.00 L36.90,234.80 L37.80,240.90 L38.60,266.70 L39.50,287.40 L40.70,304.70 L42.40,313.30 L45.50,314.70 L50.70,315.50 L54.10,314.10 L56.70,311.90 L58.40,314.70 L61.00,312.90 L62.80,315.00 L64.50,319.30 L67.10,321.50 L114.20,326.80 L114.20,327.39 L11.00,321.20 Z" stroke="none" stroke-width="1" fill="#fff" stroke-linejoin="round" />
<path d="M11.00,321.00 L11.30,260.00 L11.50,241.30 L12.10,242.00 L12.60,272.00 L13.30,307.00 L14.50,311.00 L17.30,314.20 L22.00,315.00 L27.00,315.50 L31.90,316.20 L32.60,315.00 L33.80,284.00 L34.80,270.20 L36.00,258.00 L36.90,234.80 L37.80,240.90 L38.60,266.70 L39.50,287.40 L40.70,304.70 L42.40,313.30 L45.50,314.70 L50.70,315.50 L54.10,314.10 L56.70,311.90 L58.40,314.70 L61.00,312.90 L62.80,315.00 L64.50,319.30 L67.10,321.50 L114.20,326.80" stroke="#a8173e" stroke-width="0.9" fill="none" stroke-linejoin="round" />
<path d="M19.80,313.50 L20.40,306.30 L31.90,307.30 L31.90,316.20 L22.00,315.00 Z" stroke="none" stroke-width="0" fill="url(#hatch)" stroke-linejoin="round" />
<path d="M65.50,323.60 L114.20,326.70 L118.80,321.90 L76.50,318.60 Z" stroke="none" stroke-width="0" fill="url(#hatch0)" stroke-linejoin="round" />
<path d="M76.50,318.60 L118.80,321.90 L123.40,317.20 L82.50,314.50 Z" stroke="none" stroke-width="0" fill="url(#hatch1)" stroke-linejoin="round" />
<path d="M82.50,314.50 L123.40,317.20 L128.00,312.40 L87.50,310.60 Z" stroke="none" stroke-width="0" fill="url(#hatch2)" stroke-linejoin="round" />
<line x1="65.50" y1="323.60" x2="114.20" y2="326.70" stroke="#a8173e" stroke-width="0.9" />
<line x1="76.50" y1="318.60" x2="118.80" y2="321.90" stroke="#72b04a" stroke-width="0.9" />
<line x1="82.50" y1="314.50" x2="123.40" y2="317.20" stroke="#34508f" stroke-width="0.9" />
<line x1="87.50" y1="310.60" x2="128.00" y2="312.40" stroke="#ebb678" stroke-width="0.9" />
<line x1="114.20" y1="326.70" x2="128.00" y2="312.40" stroke="#333" stroke-width="0.8" />
<line x1="10.80" y1="321.20" x2="115.80" y2="328.20" stroke="#1e1e1e" stroke-width="1.1" />
<line x1="10.80" y1="321.20" x2="10.80" y2="324.20" stroke="#1e1e1e" stroke-width="0.8" />
<line x1="14.30" y1="321.43" x2="14.30" y2="323.13" stroke="#1e1e1e" stroke-width="0.8" />
<line x1="17.80" y1="321.67" x2="17.80" y2="323.37" stroke="#1e1e1e" stroke-width="0.8" />
<line x1="21.30" y1="321.90" x2="21.30" y2="323.60" stroke="#1e1e1e" stroke-width="0.8" />
<line x1="24.80" y1="322.13" x2="24.80" y2="323.83" stroke="#1e1e1e" stroke-width="0.8" />
<line x1="28.30" y1="322.37" x2="28.30" y2="325.37" stroke="#1e1e1e" stroke-width="0.8" />
<line x1="31.80" y1="322.60" x2="31.80" y2="324.30" stroke="#1e1e1e" stroke-width="0.8" />
<line x1="35.30" y1="322.83" x2="35.30" y2="324.53" stroke="#1e1e1e" stroke-width="0.8" />
<line x1="38.80" y1="323.07" x2="38.80" y2="324.77" stroke="#1e1e1e" stroke-width="0.8" />
<line x1="42.30" y1="323.30" x2="42.30" y2="325.00" stroke="#1e1e1e" stroke-width="0.8" />
<line x1="45.80" y1="323.53" x2="45.80" y2="326.53" stroke="#1e1e1e" stroke-width="0.8" />
<line x1="49.30" y1="323.77" x2="49.30" y2="325.47" stroke="#1e1e1e" stroke-width="0.8" />
<line x1="52.80" y1="324.00" x2="52.80" y2="325.70" stroke="#1e1e1e" stroke-width="0.8" />
<line x1="56.30" y1="324.23" x2="56.30" y2="325.93" stroke="#1e1e1e" stroke-width="0.8" />
<line x1="59.80" y1="324.47" x2="59.80" y2="326.17" stroke="#1e1e1e" stroke-width="0.8" />
<line x1="63.30" y1="324.70" x2="63.30" y2="327.70" stroke="#1e1e1e" stroke-width="0.8" />
<line x1="66.80" y1="324.93" x2="66.80" y2="326.63" stroke="#1e1e1e" stroke-width="0.8" />
<line x1="70.30" y1="325.17" x2="70.30" y2="326.87" stroke="#1e1e1e" stroke-width="0.8" />
<line x1="73.80" y1="325.40" x2="73.80" y2="327.10" stroke="#1e1e1e" stroke-width="0.8" />
<line x1="77.30" y1="325.63" x2="77.30" y2="327.33" stroke="#1e1e1e" stroke-width="0.8" />
<line x1="80.80" y1="325.87" x2="80.80" y2="328.87" stroke="#1e1e1e" stroke-width="0.8" />
<line x1="84.30" y1="326.10" x2="84.30" y2="327.80" stroke="#1e1e1e" stroke-width="0.8" />
<line x1="87.80" y1="326.33" x2="87.80" y2="328.03" stroke="#1e1e1e" stroke-width="0.8" />
<line x1="91.30" y1="326.57" x2="91.30" y2="328.27" stroke="#1e1e1e" stroke-width="0.8" />
<line x1="94.80" y1="326.80" x2="94.80" y2="328.50" stroke="#1e1e1e" stroke-width="0.8" />
<line x1="98.30" y1="327.03" x2="98.30" y2="330.03" stroke="#1e1e1e" stroke-width="0.8" />
<line x1="101.80" y1="327.27" x2="101.80" y2="328.97" stroke="#1e1e1e" stroke-width="0.8" />
<line x1="105.30" y1="327.50" x2="105.30" y2="329.20" stroke="#1e1e1e" stroke-width="0.8" />
<line x1="108.80" y1="327.73" x2="108.80" y2="329.43" stroke="#1e1e1e" stroke-width="0.8" />
<line x1="112.30" y1="327.97" x2="112.30" y2="329.67" stroke="#1e1e1e" stroke-width="0.8" />
<line x1="115.80" y1="328.20" x2="115.80" y2="331.20" stroke="#1e1e1e" stroke-width="0.8" />
<text transform="translate(13.30,331.00) rotate(-45)" font-size="8" text-anchor="end" fill="#1a1a1a">0</text>
<text transform="translate(33.40,332.50) rotate(-45)" font-size="8" text-anchor="end" fill="#1a1a1a">50K</text>
<text transform="translate(53.50,334.00) rotate(-45)" font-size="8" text-anchor="end" fill="#1a1a1a">100K</text>
<text transform="translate(73.30,335.50) rotate(-45)" font-size="8" text-anchor="end" fill="#1a1a1a">150K</text>
<text transform="translate(93.50,337.00) rotate(-45)" font-size="8" text-anchor="end" fill="#1a1a1a">200K</text>
<text transform="translate(113.50,338.30) rotate(-45)" font-size="8" text-anchor="end" fill="#1a1a1a">250K</text>
<line x1="11.00" y1="350.00" x2="113.50" y2="356.20" stroke="#333" stroke-width="1.3" />
<text x="62.40" y="364.50" font-size="9.9" text-anchor="middle" font-weight="normal" fill="#222" textLength="7" lengthAdjust="spacingAndGlyphs">PI</text>
<path d="M156.30,305.50 L157.00,300.00 L157.50,294.10 L158.20,300.00 L159.00,305.00 L170.00,305.00 L183.50,304.00 L184.10,265.00 L185.90,235.70 L187.20,220.20 L188.10,240.90 L189.30,266.70 L191.00,285.70 L193.60,292.60 L199.70,297.80 L204.80,296.00 L210.90,291.70 L213.40,293.40 L216.00,299.50 L217.50,305.00 L219.00,309.60 L257.00,312.20 L257.30,298.00 L257.70,312.20 L257.70,311.99 L156.30,305.20 Z" stroke="none" stroke-width="1" fill="#fff" stroke-linejoin="round" />
<path d="M156.30,305.50 L157.00,300.00 L157.50,294.10 L158.20,300.00 L159.00,305.00 L170.00,305.00 L183.50,304.00 L184.10,265.00 L185.90,235.70 L187.20,220.20 L188.10,240.90 L189.30,266.70 L191.00,285.70 L193.60,292.60 L199.70,297.80 L204.80,296.00 L210.90,291.70 L213.40,293.40 L216.00,299.50 L217.50,305.00 L219.00,309.60 L257.00,312.20 L257.30,298.00 L257.70,312.20" stroke="#ebb678" stroke-width="0.9" fill="none" stroke-linejoin="round" />
<path d="M151.70,310.00 L170.00,310.00 L177.00,308.00 L178.10,266.70 L180.20,225.30 L181.60,240.90 L182.90,266.70 L184.10,292.60 L185.90,302.90 L189.30,305.50 L194.50,305.00 L199.70,305.50 L205.70,302.00 L207.40,303.80 L210.00,309.00 L212.60,313.30 L214.00,314.50 L252.50,317.00 L252.50,316.75 L151.70,310.00 Z" stroke="none" stroke-width="1" fill="#fff" stroke-linejoin="round" />
<path d="M151.70,310.00 L170.00,310.00 L177.00,308.00 L178.10,266.70 L180.20,225.30 L181.60,240.90 L182.90,266.70 L184.10,292.60 L185.90,302.90 L189.30,305.50 L194.50,305.00 L199.70,305.50 L205.70,302.00 L207.40,303.80 L210.00,309.00 L212.60,313.30 L214.00,314.50 L252.50,317.00" stroke="#34508f" stroke-width="0.9" fill="none" stroke-linejoin="round" />
<path d="M147.10,304.00 L147.20,230.00 L147.60,210.20 L149.70,210.20 L149.90,229.40 L150.70,258.80 L152.60,282.40 L154.60,294.10 L157.50,302.00 L160.50,305.90 L168.00,306.00 L172.00,306.40 L172.90,284.00 L174.10,266.70 L175.50,259.80 L177.20,246.00 L178.60,249.50 L179.30,275.30 L180.30,292.60 L182.40,304.70 L187.60,308.10 L194.50,309.00 L201.40,307.20 L205.20,309.00 L207.40,314.10 L210.00,316.70 L248.00,321.50 L248.00,321.56 L147.10,314.80 Z" stroke="none" stroke-width="1" fill="#fff" stroke-linejoin="round" />
<path d="M147.10,304.00 L147.20,230.00 L147.60,210.20 L149.70,210.20 L149.90,229.40 L150.70,258.80 L152.60,282.40 L154.60,294.10 L157.50,302.00 L160.50,305.90 L168.00,306.00 L172.00,306.40 L172.90,284.00 L174.10,266.70 L175.50,259.80 L177.20,246.00 L178.60,249.50 L179.30,275.30 L180.30,292.60 L182.40,304.70 L187.60,308.10 L194.50,309.00 L201.40,307.20 L205.20,309.00 L207.40,314.10 L210.00,316.70 L248.00,321.50" stroke="#72b04a" stroke-width="0.9" fill="none" stroke-linejoin="round" />
<path d="M143.00,319.60 L143.20,240.00 L143.20,210.80 L144.20,239.00 L144.80,288.00 L145.80,304.00 L148.70,309.80 L152.60,312.70 L156.60,309.80 L160.50,305.90 L163.40,303.00 L165.40,298.00 L166.20,265.00 L167.40,235.30 L168.40,250.00 L169.20,280.00 L170.30,313.30 L173.80,316.70 L180.00,317.00 L185.90,317.60 L189.00,316.50 L191.90,315.00 L194.50,318.40 L243.50,326.50 L243.50,326.37 L143.00,319.63 Z" stroke="none" stroke-width="1" fill="#fff" stroke-linejoin="round" />
<path d="M143.00,319.60 L143.20,240.00 L143.20,210.80 L144.20,239.00 L144.80,288.00 L145.80,304.00 L148.70,309.80 L152.60,312.70 L156.60,309.80 L160.50,305.90 L163.40,303.00 L165.40,298.00 L166.20,265.00 L167.40,235.30 L168.40,250.00 L169.20,280.00 L170.30,313.30 L173.80,316.70 L180.00,317.00 L185.90,317.60 L189.00,316.50 L191.90,315.00 L194.50,318.40 L243.50,326.50" stroke="#a8173e" stroke-width="0.9" fill="none" stroke-linejoin="round" />
<path d="M194.50,318.60 L243.50,326.50 L248.10,321.80 L208.00,318.00 Z" stroke="none" stroke-width="0" fill="url(#hatch0)" stroke-linejoin="round" />
<path d="M208.00,318.00 L248.10,321.80 L252.70,316.90 L213.00,314.00 Z" stroke="none" stroke-width="0" fill="url(#hatch1)" stroke-linejoin="round" />
<path d="M213.00,314.00 L252.70,316.90 L257.30,312.20 L217.00,309.80 Z" stroke="none" stroke-width="0" fill="url(#hatch2)" stroke-linejoin="round" />
<line x1="194.50" y1="318.60" x2="243.50" y2="326.50" stroke="#a8173e" stroke-width="0.9" />
<line x1="208.00" y1="318.00" x2="248.10" y2="321.80" stroke="#72b04a" stroke-width="0.9" />
<line x1="213.00" y1="314.00" x2="252.70" y2="316.90" stroke="#34508f" stroke-width="0.9" />
<line x1="217.00" y1="309.80" x2="257.30" y2="312.20" stroke="#ebb678" stroke-width="0.9" />
<line x1="243.50" y1="326.50" x2="257.30" y2="312.20" stroke="#333" stroke-width="0.8" />
<line x1="142.50" y1="319.60" x2="245.50" y2="326.40" stroke="#1e1e1e" stroke-width="1.1" />
<line x1="142.50" y1="319.60" x2="142.50" y2="322.60" stroke="#1e1e1e" stroke-width="0.8" />
<line x1="145.93" y1="319.83" x2="145.93" y2="321.53" stroke="#1e1e1e" stroke-width="0.8" />
<line x1="149.37" y1="320.05" x2="149.37" y2="321.75" stroke="#1e1e1e" stroke-width="0.8" />
<line x1="152.80" y1="320.28" x2="152.80" y2="321.98" stroke="#1e1e1e" stroke-width="0.8" />
<line x1="156.23" y1="320.51" x2="156.23" y2="322.21" stroke="#1e1e1e" stroke-width="0.8" />
<line x1="159.67" y1="320.73" x2="159.67" y2="323.73" stroke="#1e1e1e" stroke-width="0.8" />
<line x1="163.10" y1="320.96" x2="163.10" y2="322.66" stroke="#1e1e1e" stroke-width="0.8" />
<line x1="166.53" y1="321.19" x2="166.53" y2="322.89" stroke="#1e1e1e" stroke-width="0.8" />
<line x1="169.97" y1="321.41" x2="169.97" y2="323.11" stroke="#1e1e1e" stroke-width="0.8" />
<line x1="173.40" y1="321.64" x2="173.40" y2="323.34" stroke="#1e1e1e" stroke-width="0.8" />
<line x1="176.83" y1="321.87" x2="176.83" y2="324.87" stroke="#1e1e1e" stroke-width="0.8" />
<line x1="180.27" y1="322.09" x2="180.27" y2="323.79" stroke="#1e1e1e" stroke-width="0.8" />
<line x1="183.70" y1="322.32" x2="183.70" y2="324.02" stroke="#1e1e1e" stroke-width="0.8" />
<line x1="187.13" y1="322.55" x2="187.13" y2="324.25" stroke="#1e1e1e" stroke-width="0.8" />
<line x1="190.57" y1="322.77" x2="190.57" y2="324.47" stroke="#1e1e1e" stroke-width="0.8" />
<line x1="194.00" y1="323.00" x2="194.00" y2="326.00" stroke="#1e1e1e" stroke-width="0.8" />
<line x1="197.43" y1="323.23" x2="197.43" y2="324.93" stroke="#1e1e1e" stroke-width="0.8" />
<line x1="200.87" y1="323.45" x2="200.87" y2="325.15" stroke="#1e1e1e" stroke-width="0.8" />
<line x1="204.30" y1="323.68" x2="204.30" y2="325.38" stroke="#1e1e1e" stroke-width="0.8" />
<line x1="207.73" y1="323.91" x2="207.73" y2="325.61" stroke="#1e1e1e" stroke-width="0.8" />
<line x1="211.17" y1="324.13" x2="211.17" y2="327.13" stroke="#1e1e1e" stroke-width="0.8" />
<line x1="214.60" y1="324.36" x2="214.60" y2="326.06" stroke="#1e1e1e" stroke-width="0.8" />
<line x1="218.03" y1="324.59" x2="218.03" y2="326.29" stroke="#1e1e1e" stroke-width="0.8" />
<line x1="221.47" y1="324.81" x2="221.47" y2="326.51" stroke="#1e1e1e" stroke-width="0.8" />
<line x1="224.90" y1="325.04" x2="224.90" y2="326.74" stroke="#1e1e1e" stroke-width="0.8" />
<line x1="228.33" y1="325.27" x2="228.33" y2="328.27" stroke="#1e1e1e" stroke-width="0.8" />
<line x1="231.77" y1="325.49" x2="231.77" y2="327.19" stroke="#1e1e1e" stroke-width="0.8" />
<line x1="235.20" y1="325.72" x2="235.20" y2="327.42" stroke="#1e1e1e" stroke-width="0.8" />
<line x1="238.63" y1="325.95" x2="238.63" y2="327.65" stroke="#1e1e1e" stroke-width="0.8" />
<line x1="242.07" y1="326.17" x2="242.07" y2="327.87" stroke="#1e1e1e" stroke-width="0.8" />
<line x1="245.50" y1="326.40" x2="245.50" y2="329.40" stroke="#1e1e1e" stroke-width="0.8" />
<text transform="translate(144.80,330.50) rotate(-45)" font-size="8" text-anchor="end" fill="#1a1a1a">0</text>
<text transform="translate(163.00,332.50) rotate(-45)" font-size="8" text-anchor="end" fill="#1a1a1a">50K</text>
<text transform="translate(182.00,334.00) rotate(-45)" font-size="8" text-anchor="end" fill="#1a1a1a">100K</text>
<text transform="translate(201.00,335.30) rotate(-45)" font-size="8" text-anchor="end" fill="#1a1a1a">150K</text>
<text transform="translate(220.00,336.70) rotate(-45)" font-size="8" text-anchor="end" fill="#1a1a1a">200K</text>
<text transform="translate(240.00,337.80) rotate(-45)" font-size="8" text-anchor="end" fill="#1a1a1a">250K</text>
<line x1="142.50" y1="347.80" x2="243.80" y2="355.00" stroke="#333" stroke-width="1.3" />
<text x="195.00" y="364.00" font-size="9.9" text-anchor="middle" font-weight="normal" fill="#222" textLength="7" lengthAdjust="spacingAndGlyphs">PI</text>
<line x1="327.50" y1="221.30" x2="327.50" y2="311.80" stroke="#1e1e1e" stroke-width="1.2" />
<line x1="327.50" y1="311.80" x2="464.00" y2="311.80" stroke="#1e1e1e" stroke-width="1.2" />
<line x1="323.00" y1="311.30" x2="327.50" y2="311.30" stroke="#1e1e1e" stroke-width="1" />
<text x="321.00" y="314.10" font-size="7.8" text-anchor="end" font-weight="normal" fill="#222" >0</text>
<line x1="323.00" y1="270.00" x2="327.50" y2="270.00" stroke="#1e1e1e" stroke-width="1" />
<text x="321.00" y="272.80" font-size="7.8" text-anchor="end" font-weight="normal" fill="#222" >50</text>
<line x1="323.00" y1="228.70" x2="327.50" y2="228.70" stroke="#1e1e1e" stroke-width="1" />
<text x="321.00" y="231.50" font-size="7.8" text-anchor="end" font-weight="normal" fill="#222" >100</text>
<text transform="translate(302.0,266.5) rotate(-90)" font-size="9.8" text-anchor="middle" fill="#1a1a1a" textLength="37.5" lengthAdjust="spacingAndGlyphs">% of cells</text>
<rect x="329.80" y="230.00" width="8.20" height="16.00" fill="#2c4a83" stroke="none" stroke-width="1" />
<rect x="329.80" y="246.00" width="8.20" height="17.40" fill="#6fa8dc" stroke="none" stroke-width="1" />
<rect x="329.80" y="263.40" width="8.20" height="45.30" fill="#65ad3a" stroke="none" stroke-width="1" />
<rect x="329.80" y="308.70" width="8.20" height="3.10" fill="#a8062f" stroke="none" stroke-width="1" />
<rect x="342.00" y="231.40" width="8.20" height="13.70" fill="#2c4a83" stroke="none" stroke-width="1" />
<rect x="342.00" y="245.10" width="8.20" height="14.30" fill="#6fa8dc" stroke="none" stroke-width="1" />
<rect x="342.00" y="259.40" width="8.20" height="50.00" fill="#65ad3a" stroke="none" stroke-width="1" />
<rect x="342.00" y="309.40" width="8.20" height="2.40" fill="#a8062f" stroke="none" stroke-width="1" />
<rect x="354.40" y="231.00" width="8.20" height="9.60" fill="#2c4a83" stroke="none" stroke-width="1" />
<rect x="354.40" y="240.60" width="8.20" height="12.80" fill="#6fa8dc" stroke="none" stroke-width="1" />
<rect x="354.40" y="253.40" width="8.20" height="46.00" fill="#65ad3a" stroke="none" stroke-width="1" />
<rect x="354.40" y="299.40" width="8.20" height="12.40" fill="#a8062f" stroke="none" stroke-width="1" />
<rect x="366.70" y="230.50" width="8.20" height="9.20" fill="#2c4a83" stroke="none" stroke-width="1" />
<rect x="366.70" y="239.70" width="8.20" height="11.80" fill="#6fa8dc" stroke="none" stroke-width="1" />
<rect x="366.70" y="251.50" width="8.20" height="46.60" fill="#65ad3a" stroke="none" stroke-width="1" />
<rect x="366.70" y="298.10" width="8.20" height="13.70" fill="#a8062f" stroke="none" stroke-width="1" />
<rect x="378.90" y="230.50" width="8.20" height="2.80" fill="#2c4a83" stroke="none" stroke-width="1" />
<rect x="378.90" y="233.30" width="8.20" height="10.00" fill="#6fa8dc" stroke="none" stroke-width="1" />
<rect x="378.90" y="243.30" width="8.20" height="42.90" fill="#65ad3a" stroke="none" stroke-width="1" />
<rect x="378.90" y="286.20" width="8.20" height="25.60" fill="#a8062f" stroke="none" stroke-width="1" />
<rect x="404.20" y="229.20" width="8.20" height="13.20" fill="#2c4a83" stroke="none" stroke-width="1" />
<rect x="404.20" y="242.40" width="8.20" height="15.50" fill="#6fa8dc" stroke="none" stroke-width="1" />
<rect x="404.20" y="257.90" width="8.20" height="51.10" fill="#65ad3a" stroke="none" stroke-width="1" />
<rect x="404.20" y="309.00" width="8.20" height="2.80" fill="#a8062f" stroke="none" stroke-width="1" />
<rect x="416.50" y="230.50" width="8.20" height="7.30" fill="#2c4a83" stroke="none" stroke-width="1" />
<rect x="416.50" y="237.80" width="8.20" height="6.40" fill="#6fa8dc" stroke="none" stroke-width="1" />
<rect x="416.50" y="244.20" width="8.20" height="58.80" fill="#65ad3a" stroke="none" stroke-width="1" />
<rect x="416.50" y="303.00" width="8.20" height="8.80" fill="#a8062f" stroke="none" stroke-width="1" />
<rect x="428.70" y="231.00" width="8.20" height="4.10" fill="#2c4a83" stroke="none" stroke-width="1" />
<rect x="428.70" y="235.10" width="8.20" height="7.30" fill="#6fa8dc" stroke="none" stroke-width="1" />
<rect x="428.70" y="242.40" width="8.20" height="35.60" fill="#65ad3a" stroke="none" stroke-width="1" />
<rect x="428.70" y="278.00" width="8.20" height="33.80" fill="#a8062f" stroke="none" stroke-width="1" />
<rect x="441.20" y="230.50" width="8.20" height="4.50" fill="#2c4a83" stroke="none" stroke-width="1" />
<rect x="441.20" y="235.00" width="8.20" height="6.50" fill="#6fa8dc" stroke="none" stroke-width="1" />
<rect x="441.20" y="241.50" width="8.20" height="33.80" fill="#65ad3a" stroke="none" stroke-width="1" />
<rect x="441.20" y="275.30" width="8.20" height="36.50" fill="#a8062f" stroke="none" stroke-width="1" />
<rect x="453.40" y="231.00" width="8.20" height="5.00" fill="#2c4a83" stroke="none" stroke-width="1" />
<rect x="453.40" y="236.00" width="8.20" height="6.40" fill="#6fa8dc" stroke="none" stroke-width="1" />
<rect x="453.40" y="242.40" width="8.20" height="33.80" fill="#65ad3a" stroke="none" stroke-width="1" />
<rect x="453.40" y="276.20" width="8.20" height="35.60" fill="#a8062f" stroke="none" stroke-width="1" />
<line x1="333.90" y1="226.90" x2="333.90" y2="230.50" stroke="#111" stroke-width="1" />
<line x1="331.60" y1="226.90" x2="336.20" y2="226.90" stroke="#111" stroke-width="1.1" />
<line x1="333.90" y1="261.60" x2="333.90" y2="264.00" stroke="#111" stroke-width="1" />
<line x1="331.60" y1="261.60" x2="336.20" y2="261.60" stroke="#111" stroke-width="1.1" />
<line x1="358.50" y1="297.60" x2="358.50" y2="300.00" stroke="#111" stroke-width="1" />
<line x1="356.20" y1="297.60" x2="360.80" y2="297.60" stroke="#111" stroke-width="1.1" />
<line x1="370.80" y1="294.50" x2="370.80" y2="298.50" stroke="#111" stroke-width="1" />
<line x1="368.50" y1="294.50" x2="373.10" y2="294.50" stroke="#111" stroke-width="1.1" />
<line x1="370.80" y1="250.60" x2="370.80" y2="252.00" stroke="#111" stroke-width="1" />
<line x1="368.50" y1="250.60" x2="373.10" y2="250.60" stroke="#111" stroke-width="1.1" />
<line x1="370.80" y1="229.20" x2="370.80" y2="231.00" stroke="#111" stroke-width="1" />
<line x1="368.50" y1="229.20" x2="373.10" y2="229.20" stroke="#111" stroke-width="1.1" />
<line x1="383.00" y1="285.00" x2="383.00" y2="287.00" stroke="#111" stroke-width="1" />
<line x1="380.70" y1="285.00" x2="385.30" y2="285.00" stroke="#111" stroke-width="1.1" />
<line x1="346.10" y1="229.60" x2="346.10" y2="231.50" stroke="#111" stroke-width="1" />
<line x1="343.80" y1="229.60" x2="348.40" y2="229.60" stroke="#111" stroke-width="1.1" />
<line x1="358.50" y1="229.80" x2="358.50" y2="231.50" stroke="#111" stroke-width="1" />
<line x1="356.20" y1="229.80" x2="360.80" y2="229.80" stroke="#111" stroke-width="1.1" />
<line x1="408.30" y1="227.40" x2="408.30" y2="229.50" stroke="#111" stroke-width="1" />
<line x1="406.00" y1="227.40" x2="410.60" y2="227.40" stroke="#111" stroke-width="1.1" />
<line x1="408.30" y1="242.00" x2="408.30" y2="243.00" stroke="#111" stroke-width="1" />
<line x1="406.00" y1="242.00" x2="410.60" y2="242.00" stroke="#111" stroke-width="1.1" />
<line x1="408.30" y1="256.00" x2="408.30" y2="258.50" stroke="#111" stroke-width="1" />
<line x1="406.00" y1="256.00" x2="410.60" y2="256.00" stroke="#111" stroke-width="1.1" />
<line x1="420.60" y1="225.00" x2="420.60" y2="231.00" stroke="#111" stroke-width="1" />
<line x1="418.30" y1="225.00" x2="422.90" y2="225.00" stroke="#111" stroke-width="1.1" />
<line x1="420.60" y1="293.60" x2="420.60" y2="303.50" stroke="#111" stroke-width="1" />
<line x1="418.30" y1="293.60" x2="422.90" y2="293.60" stroke="#111" stroke-width="1.1" />
<line x1="420.60" y1="243.50" x2="420.60" y2="245.00" stroke="#111" stroke-width="1" />
<line x1="418.30" y1="243.50" x2="422.90" y2="243.50" stroke="#111" stroke-width="1.1" />
<line x1="432.80" y1="229.60" x2="432.80" y2="242.40" stroke="#111" stroke-width="1" />
<line x1="430.50" y1="229.60" x2="435.10" y2="229.60" stroke="#111" stroke-width="1.1" />
<line x1="432.80" y1="277.00" x2="432.80" y2="278.50" stroke="#111" stroke-width="1" />
<line x1="430.50" y1="277.00" x2="435.10" y2="277.00" stroke="#111" stroke-width="1.1" />
<line x1="445.30" y1="227.80" x2="445.30" y2="231.00" stroke="#111" stroke-width="1" />
<line x1="443.00" y1="227.80" x2="447.60" y2="227.80" stroke="#111" stroke-width="1.1" />
<line x1="445.30" y1="267.60" x2="445.30" y2="275.50" stroke="#111" stroke-width="1" />
<line x1="443.00" y1="267.60" x2="447.60" y2="267.60" stroke="#111" stroke-width="1.1" />
<line x1="445.30" y1="241.00" x2="445.30" y2="242.00" stroke="#111" stroke-width="1" />
<line x1="443.00" y1="241.00" x2="447.60" y2="241.00" stroke="#111" stroke-width="1.1" />
<line x1="457.50" y1="228.70" x2="457.50" y2="231.50" stroke="#111" stroke-width="1" />
<line x1="455.20" y1="228.70" x2="459.80" y2="228.70" stroke="#111" stroke-width="1.1" />
<line x1="457.50" y1="267.60" x2="457.50" y2="276.50" stroke="#111" stroke-width="1" />
<line x1="455.20" y1="267.60" x2="459.80" y2="267.60" stroke="#111" stroke-width="1.1" />
<line x1="457.50" y1="241.00" x2="457.50" y2="243.00" stroke="#111" stroke-width="1" />
<line x1="455.20" y1="241.00" x2="459.80" y2="241.00" stroke="#111" stroke-width="1.1" />
<line x1="333.90" y1="311.80" x2="333.90" y2="314.80" stroke="#1e1e1e" stroke-width="1" />
<text x="333.90" y="324.40" font-size="7.8" text-anchor="middle" font-weight="normal" fill="#222" >0</text>
<line x1="346.10" y1="311.80" x2="346.10" y2="314.80" stroke="#1e1e1e" stroke-width="1" />
<text x="346.10" y="324.40" font-size="7.8" text-anchor="middle" font-weight="normal" fill="#222" >5</text>
<line x1="358.50" y1="311.80" x2="358.50" y2="314.80" stroke="#1e1e1e" stroke-width="1" />
<text x="358.50" y="324.40" font-size="7.8" text-anchor="middle" font-weight="normal" fill="#222" >9</text>
<line x1="370.80" y1="311.80" x2="370.80" y2="314.80" stroke="#1e1e1e" stroke-width="1" />
<text x="370.80" y="324.40" font-size="7.8" text-anchor="middle" font-weight="normal" fill="#222" >11</text>
<line x1="383.00" y1="311.80" x2="383.00" y2="314.80" stroke="#1e1e1e" stroke-width="1" />
<text x="383.00" y="324.40" font-size="7.8" text-anchor="middle" font-weight="normal" fill="#222" >14</text>
<line x1="408.30" y1="311.80" x2="408.30" y2="314.80" stroke="#1e1e1e" stroke-width="1" />
<text x="408.30" y="324.40" font-size="7.8" text-anchor="middle" font-weight="normal" fill="#222" >0</text>
<line x1="420.60" y1="311.80" x2="420.60" y2="314.80" stroke="#1e1e1e" stroke-width="1" />
<text x="420.60" y="324.40" font-size="7.8" text-anchor="middle" font-weight="normal" fill="#222" >5</text>
<line x1="432.80" y1="311.80" x2="432.80" y2="314.80" stroke="#1e1e1e" stroke-width="1" />
<text x="432.80" y="324.40" font-size="7.8" text-anchor="middle" font-weight="normal" fill="#222" >9</text>
<line x1="445.30" y1="311.80" x2="445.30" y2="314.80" stroke="#1e1e1e" stroke-width="1" />
<text x="445.30" y="324.40" font-size="7.8" text-anchor="middle" font-weight="normal" fill="#222" >11</text>
<line x1="457.50" y1="311.80" x2="457.50" y2="314.80" stroke="#1e1e1e" stroke-width="1" />
<text x="457.50" y="324.40" font-size="7.8" text-anchor="middle" font-weight="normal" fill="#222" >14</text>
<line x1="395.60" y1="311.80" x2="395.60" y2="314.80" stroke="#1e1e1e" stroke-width="1" />
<text x="395.90" y="338.60" font-size="10.3" text-anchor="middle" font-weight="normal" fill="#222" textLength="18.5" lengthAdjust="spacingAndGlyphs">Days</text>
<text x="358.30" y="214.80" font-size="9.5" text-anchor="middle" font-weight="bold" fill="#111" >OCI AML2</text>
<text x="432.80" y="214.80" font-size="9.5" text-anchor="middle" font-weight="bold" fill="#111" >OCI AML3</text>
<rect x="472.70" y="224.00" width="10.40" height="6.20" fill="#a8062f" stroke="none" stroke-width="1" />
<text x="486.80" y="229.60" font-size="7.6" text-anchor="start" font-weight="normal" fill="#222" >Sub-G1</text>
<rect x="472.70" y="234.70" width="10.40" height="6.20" fill="#65ad3a" stroke="none" stroke-width="1" />
<text x="486.80" y="240.30" font-size="7.6" text-anchor="start" font-weight="normal" fill="#222" >G1/G0</text>
<rect x="472.70" y="245.40" width="10.40" height="6.20" fill="#6fa8dc" stroke="none" stroke-width="1" />
<text x="486.80" y="251.00" font-size="7.6" text-anchor="start" font-weight="normal" fill="#222" >S</text>
<rect x="472.70" y="256.10" width="10.40" height="6.20" fill="#2c4a83" stroke="none" stroke-width="1" />
<text x="486.80" y="261.70" font-size="7.6" text-anchor="start" font-weight="normal" fill="#222" >G2/M</text>
<text x="10.00" y="392.60" font-size="12" text-anchor="start" font-weight="bold" fill="#111" >C</text>
<text x="92.00" y="408.00" font-size="8.4" text-anchor="middle" font-weight="normal" fill="#222" >DMSO</text>
<text x="201.30" y="408.00" font-size="8.4" text-anchor="middle" font-weight="normal" fill="#222" textLength="30" lengthAdjust="spacingAndGlyphs">3μM EPZ</text>
<line x1="27.80" y1="414.80" x2="27.80" y2="596.50" stroke="#222" stroke-width="1.2" />
<text transform="translate(23.2,504.8) rotate(-90)" font-size="9.4" text-anchor="middle" fill="#1a1a1a" textLength="14" lengthAdjust="spacingAndGlyphs">SSC</text>
<line x1="50.00" y1="612.40" x2="244.40" y2="612.40" stroke="#222" stroke-width="1.3" />
<text x="147.10" y="623.50" font-size="10.2" text-anchor="middle" font-weight="normal" fill="#222" textLength="20.9" lengthAdjust="spacingAndGlyphs">CD14</text>
<text x="247.20" y="455.30" font-size="6.4" text-anchor="start" font-weight="bold" fill="#111" >OCI AML2</text>
<text x="247.20" y="559.00" font-size="6.4" text-anchor="start" font-weight="bold" fill="#111" >OCI AML3</text>
<path d="M54.60,463.60 63.60,457.80 72.00,452.50 77.30,448.80 82.10,446.90 85.30,448.80 87.40,454.60 90.60,458.80 94.80,460.40 99.60,463.00 100.10,466.70 97.40,471.00 92.20,474.20 86.90,475.70 81.60,477.30 68.90,478.40 58.30,477.90 54.00,477.00 Z" fill="#8a8a8a" fill-opacity="0.075" stroke="#a2a2a2" stroke-width="0.5" stroke-linejoin="round"/>
<path d="M57.22,464.57 65.03,459.54 72.33,454.93 76.93,451.72 81.10,450.07 83.88,451.72 85.70,456.76 88.48,460.41 92.13,461.79 96.30,464.05 96.73,467.27 94.39,471.00 89.87,473.78 85.27,475.08 80.67,476.47 69.64,477.43 60.43,476.99 56.70,476.21 Z" fill="#8a8a8a" fill-opacity="0.075" stroke="#a2a2a2" stroke-width="0.5" stroke-linejoin="round"/>
<path d="M59.84,465.55 66.47,461.27 72.66,457.37 76.56,454.64 80.10,453.24 82.46,454.64 84.01,458.92 86.36,462.01 89.46,463.19 92.99,465.11 93.36,467.83 91.37,471.00 87.54,473.36 83.64,474.46 79.73,475.64 70.37,476.45 62.56,476.08 59.39,475.42 Z" fill="#8a8a8a" fill-opacity="0.075" stroke="#a2a2a2" stroke-width="0.5" stroke-linejoin="round"/>
<path d="M62.46,466.52 67.90,463.01 72.99,459.80 76.19,457.56 79.10,456.41 81.04,457.56 82.31,461.07 84.24,463.62 86.79,464.58 89.69,466.16 89.99,468.40 88.36,471.00 85.21,472.94 82.01,473.84 78.80,474.81 71.11,475.48 64.69,475.18 62.09,474.63 Z" fill="#8a8a8a" fill-opacity="0.075" stroke="#a2a2a2" stroke-width="0.5" stroke-linejoin="round"/>
<path d="M65.07,467.49 69.34,464.75 73.32,462.24 75.83,460.48 78.10,459.58 79.62,460.48 80.61,463.23 82.13,465.22 84.12,465.98 86.39,467.21 86.63,468.96 85.35,471.00 82.88,472.52 80.37,473.23 77.86,473.98 71.85,474.51 66.83,474.27 64.79,473.84 Z" fill="#8a8a8a" fill-opacity="0.075" stroke="#a2a2a2" stroke-width="0.5" stroke-linejoin="round"/>
<path d="M67.69,468.47 70.77,466.48 73.64,464.67 75.46,463.41 77.10,462.76 78.19,463.41 78.91,465.39 80.01,466.83 81.44,467.37 83.09,468.26 83.26,469.53 82.33,471.00 80.56,472.09 78.74,472.61 76.93,473.16 72.58,473.53 68.96,473.36 67.49,473.05 Z" fill="#8a8a8a" fill-opacity="0.075" stroke="#a2a2a2" stroke-width="0.5" stroke-linejoin="round"/>
<path d="M70.31,469.44 72.21,468.22 73.97,467.11 75.09,466.33 76.10,465.93 76.77,466.33 77.22,467.55 77.89,468.43 78.77,468.77 79.78,469.32 79.89,470.09 79.32,471.00 78.23,471.67 77.11,471.99 75.99,472.33 73.32,472.56 71.09,472.45 70.18,472.26 Z" fill="#8a8a8a" fill-opacity="0.075" stroke="#a2a2a2" stroke-width="0.5" stroke-linejoin="round"/>
<ellipse cx="74.50" cy="471.00" rx="3.0" ry="2.4" fill="#777" fill-opacity="0.22"/>
<path d="M86.50,454.50 L91.00,458.50 L95.00,460.50 L99.60,463.20 L100.20,467.00 L97.50,471.00 L92.50,474.00 L87.50,475.60" stroke="#8f95b5" stroke-width="0.55" fill="none" stroke-linejoin="round" />
<path d="M87.00,458.50 L92.00,461.50 L96.00,464.00 L97.50,467.00 L95.50,470.00 L91.00,472.50 L87.00,473.50" stroke="#8f95b5" stroke-width="0.55" fill="none" stroke-linejoin="round" />
<path d="M87.20,462.50 L91.00,464.50 L93.00,467.00 L91.50,469.50 L87.20,470.50" stroke="#8f95b5" stroke-width="0.55" fill="none" stroke-linejoin="round" />
<path d="M83.70,482.90 L87.20,444.80 L88.10,442.20 L121.30,419.20 L121.30,482.90 Z" stroke="#a4a8bc" stroke-width="0.8" fill="none" stroke-linejoin="round" />
<text x="102.90" y="453.80" font-size="5.9" text-anchor="middle" font-weight="normal" fill="#222" >7.36</text>
<rect x="53.10" y="412.80" width="77.50" height="78.20" fill="none" stroke="#1e1e1e" stroke-width="1.3" />
<line x1="49.90" y1="490.70" x2="53.10" y2="490.70" stroke="#1e1e1e" stroke-width="0.75" />
<line x1="51.40" y1="487.77" x2="53.10" y2="487.77" stroke="#1e1e1e" stroke-width="0.75" />
<line x1="51.40" y1="484.84" x2="53.10" y2="484.84" stroke="#1e1e1e" stroke-width="0.75" />
<line x1="51.40" y1="481.92" x2="53.10" y2="481.92" stroke="#1e1e1e" stroke-width="0.75" />
<line x1="51.40" y1="478.99" x2="53.10" y2="478.99" stroke="#1e1e1e" stroke-width="0.75" />
<line x1="49.90" y1="476.06" x2="53.10" y2="476.06" stroke="#1e1e1e" stroke-width="0.75" />
<line x1="51.40" y1="473.13" x2="53.10" y2="473.13" stroke="#1e1e1e" stroke-width="0.75" />
<line x1="51.40" y1="470.20" x2="53.10" y2="470.20" stroke="#1e1e1e" stroke-width="0.75" />
<line x1="51.40" y1="467.28" x2="53.10" y2="467.28" stroke="#1e1e1e" stroke-width="0.75" />
<line x1="51.40" y1="464.35" x2="53.10" y2="464.35" stroke="#1e1e1e" stroke-width="0.75" />
<line x1="49.90" y1="461.42" x2="53.10" y2="461.42" stroke="#1e1e1e" stroke-width="0.75" />
<line x1="51.40" y1="458.49" x2="53.10" y2="458.49" stroke="#1e1e1e" stroke-width="0.75" />
<line x1="51.40" y1="455.56" x2="53.10" y2="455.56" stroke="#1e1e1e" stroke-width="0.75" />
<line x1="51.40" y1="452.64" x2="53.10" y2="452.64" stroke="#1e1e1e" stroke-width="0.75" />
<line x1="51.40" y1="449.71" x2="53.10" y2="449.71" stroke="#1e1e1e" stroke-width="0.75" />
<line x1="49.90" y1="446.78" x2="53.10" y2="446.78" stroke="#1e1e1e" stroke-width="0.75" />
<line x1="51.40" y1="443.85" x2="53.10" y2="443.85" stroke="#1e1e1e" stroke-width="0.75" />
<line x1="51.40" y1="440.92" x2="53.10" y2="440.92" stroke="#1e1e1e" stroke-width="0.75" />
<line x1="51.40" y1="438.00" x2="53.10" y2="438.00" stroke="#1e1e1e" stroke-width="0.75" />
<line x1="51.40" y1="435.07" x2="53.10" y2="435.07" stroke="#1e1e1e" stroke-width="0.75" />
<line x1="49.90" y1="432.14" x2="53.10" y2="432.14" stroke="#1e1e1e" stroke-width="0.75" />
<line x1="51.40" y1="429.21" x2="53.10" y2="429.21" stroke="#1e1e1e" stroke-width="0.75" />
<line x1="51.40" y1="426.28" x2="53.10" y2="426.28" stroke="#1e1e1e" stroke-width="0.75" />
<line x1="51.40" y1="423.36" x2="53.10" y2="423.36" stroke="#1e1e1e" stroke-width="0.75" />
<line x1="51.40" y1="420.43" x2="53.10" y2="420.43" stroke="#1e1e1e" stroke-width="0.75" />
<line x1="49.90" y1="417.50" x2="53.10" y2="417.50" stroke="#1e1e1e" stroke-width="0.75" />
<text x="46.40" y="492.90" font-size="6.3" text-anchor="end" font-weight="normal" fill="#222" >0</text>
<text x="46.40" y="478.26" font-size="6.3" text-anchor="end" font-weight="normal" fill="#222" >50K</text>
<text x="46.40" y="463.62" font-size="6.3" text-anchor="end" font-weight="normal" fill="#222" >100K</text>
<text x="46.40" y="448.98" font-size="6.3" text-anchor="end" font-weight="normal" fill="#222" >150K</text>
<text x="46.40" y="434.34" font-size="6.3" text-anchor="end" font-weight="normal" fill="#222" >200K</text>
<text x="46.40" y="419.70" font-size="6.3" text-anchor="end" font-weight="normal" fill="#222" >250K</text>
<line x1="60.50" y1="491.00" x2="60.50" y2="493.80" stroke="#1e1e1e" stroke-width="0.8" />
<line x1="70.30" y1="491.00" x2="70.30" y2="493.80" stroke="#1e1e1e" stroke-width="0.8" />
<line x1="88.00" y1="491.00" x2="88.00" y2="493.80" stroke="#1e1e1e" stroke-width="0.8" />
<line x1="105.40" y1="491.00" x2="105.40" y2="493.80" stroke="#1e1e1e" stroke-width="0.8" />
<line x1="122.90" y1="491.00" x2="122.90" y2="493.80" stroke="#1e1e1e" stroke-width="0.8" />
<line x1="62.95" y1="491.00" x2="62.95" y2="493.30" stroke="#1e1e1e" stroke-width="0.85" />
<line x1="65.40" y1="491.00" x2="65.40" y2="493.30" stroke="#1e1e1e" stroke-width="0.85" />
<line x1="67.85" y1="491.00" x2="67.85" y2="493.30" stroke="#1e1e1e" stroke-width="0.85" />
<line x1="75.63" y1="491.00" x2="75.63" y2="493.30" stroke="#1e1e1e" stroke-width="0.85" />
<line x1="78.75" y1="491.00" x2="78.75" y2="493.30" stroke="#1e1e1e" stroke-width="0.85" />
<line x1="80.96" y1="491.00" x2="80.96" y2="493.30" stroke="#1e1e1e" stroke-width="0.85" />
<line x1="82.67" y1="491.00" x2="82.67" y2="493.30" stroke="#1e1e1e" stroke-width="0.85" />
<line x1="84.07" y1="491.00" x2="84.07" y2="493.30" stroke="#1e1e1e" stroke-width="0.85" />
<line x1="85.26" y1="491.00" x2="85.26" y2="493.30" stroke="#1e1e1e" stroke-width="0.85" />
<line x1="86.28" y1="491.00" x2="86.28" y2="493.30" stroke="#1e1e1e" stroke-width="0.85" />
<line x1="87.19" y1="491.00" x2="87.19" y2="493.30" stroke="#1e1e1e" stroke-width="0.85" />
<line x1="93.24" y1="491.00" x2="93.24" y2="493.30" stroke="#1e1e1e" stroke-width="0.85" />
<line x1="96.30" y1="491.00" x2="96.30" y2="493.30" stroke="#1e1e1e" stroke-width="0.85" />
<line x1="98.48" y1="491.00" x2="98.48" y2="493.30" stroke="#1e1e1e" stroke-width="0.85" />
<line x1="100.16" y1="491.00" x2="100.16" y2="493.30" stroke="#1e1e1e" stroke-width="0.85" />
<line x1="101.54" y1="491.00" x2="101.54" y2="493.30" stroke="#1e1e1e" stroke-width="0.85" />
<line x1="102.70" y1="491.00" x2="102.70" y2="493.30" stroke="#1e1e1e" stroke-width="0.85" />
<line x1="103.71" y1="491.00" x2="103.71" y2="493.30" stroke="#1e1e1e" stroke-width="0.85" />
<line x1="104.60" y1="491.00" x2="104.60" y2="493.30" stroke="#1e1e1e" stroke-width="0.85" />
<line x1="110.67" y1="491.00" x2="110.67" y2="493.30" stroke="#1e1e1e" stroke-width="0.85" />
<line x1="113.75" y1="491.00" x2="113.75" y2="493.30" stroke="#1e1e1e" stroke-width="0.85" />
<line x1="115.94" y1="491.00" x2="115.94" y2="493.30" stroke="#1e1e1e" stroke-width="0.85" />
<line x1="117.63" y1="491.00" x2="117.63" y2="493.30" stroke="#1e1e1e" stroke-width="0.85" />
<line x1="119.02" y1="491.00" x2="119.02" y2="493.30" stroke="#1e1e1e" stroke-width="0.85" />
<line x1="120.19" y1="491.00" x2="120.19" y2="493.30" stroke="#1e1e1e" stroke-width="0.85" />
<line x1="121.20" y1="491.00" x2="121.20" y2="493.30" stroke="#1e1e1e" stroke-width="0.85" />
<line x1="122.10" y1="491.00" x2="122.10" y2="493.30" stroke="#1e1e1e" stroke-width="0.85" />
<line x1="57.90" y1="491.00" x2="57.90" y2="493.30" stroke="#1e1e1e" stroke-width="0.85" />
<line x1="55.30" y1="491.00" x2="55.30" y2="493.30" stroke="#1e1e1e" stroke-width="0.85" />
<text x="60.50" y="502.90" font-size="6.2" text-anchor="middle" font-weight="normal" fill="#222" >0</text>
<text x="70.30" y="502.90" font-size="6.2" text-anchor="middle" fill="#222">10<tspan font-size="4.0" dy="-2.4">2</tspan></text>
<text x="88.00" y="502.90" font-size="6.2" text-anchor="middle" fill="#222">10<tspan font-size="4.0" dy="-2.4">3</tspan></text>
<text x="105.40" y="502.90" font-size="6.2" text-anchor="middle" fill="#222">10<tspan font-size="4.0" dy="-2.4">4</tspan></text>
<text x="122.90" y="502.90" font-size="6.2" text-anchor="middle" fill="#222">10<tspan font-size="4.0" dy="-2.4">5</tspan></text>
<path d="M166.20,464.40 176.80,455.00 183.80,450.30 186.20,438.50 188.50,429.10 190.30,426.20 194.40,425.60 195.00,432.60 196.20,444.40 199.10,450.30 205.00,452.60 212.10,455.00 214.40,462.00 215.60,468.00 214.40,473.80 209.70,477.40 200.30,479.70 188.50,479.10 176.80,478.50 166.20,477.40 Z" fill="#8a8a8a" fill-opacity="0.06" stroke="#a2a2a2" stroke-width="0.5" stroke-linejoin="round"/>
<path d="M166.20,467.00 178.00,458.00 184.50,452.50 187.50,441.00 189.50,434.00 192.50,433.50 194.00,442.00 197.00,451.50 204.00,455.50 211.00,457.50 213.50,464.00 212.00,471.00 205.00,476.00 190.00,478.00 175.00,477.50 166.20,476.00 Z" fill="#8a8a8a" fill-opacity="0.06" stroke="#a2a2a2" stroke-width="0.5" stroke-linejoin="round"/>
<path d="M166.20,470.00 175.00,462.00 183.00,456.00 187.00,447.00 189.00,443.00 191.50,443.00 193.50,449.00 197.00,455.00 203.00,458.00 210.00,460.00 212.00,466.00 209.00,473.00 200.00,477.00 185.00,477.00 172.00,476.00 166.20,475.00 Z" fill="#8a8a8a" fill-opacity="0.075" stroke="#a2a2a2" stroke-width="0.5" stroke-linejoin="round"/>
<path d="M169.07,470.04 176.71,463.09 183.66,457.88 187.13,450.07 188.87,446.59 191.04,446.59 192.78,451.80 195.82,457.01 201.03,459.62 207.11,461.36 208.84,466.57 206.24,472.64 198.42,476.12 185.39,476.12 174.11,475.25 169.07,474.38 Z" fill="#8a8a8a" fill-opacity="0.075" stroke="#a2a2a2" stroke-width="0.5" stroke-linejoin="round"/>
<path d="M171.94,470.08 178.42,464.18 184.32,459.76 187.26,453.13 188.74,450.18 190.58,450.18 192.05,454.61 194.63,459.03 199.05,461.24 204.21,462.71 205.68,467.13 203.47,472.29 196.84,475.24 185.79,475.24 176.21,474.50 171.94,473.76 Z" fill="#8a8a8a" fill-opacity="0.075" stroke="#a2a2a2" stroke-width="0.5" stroke-linejoin="round"/>
<path d="M174.81,470.12 180.13,465.28 184.97,461.64 187.39,456.20 188.61,453.78 190.12,453.78 191.33,457.41 193.45,461.04 197.08,462.86 201.32,464.07 202.53,467.70 200.71,471.93 195.26,474.36 186.18,474.36 178.32,473.75 174.81,473.14 Z" fill="#8a8a8a" fill-opacity="0.075" stroke="#a2a2a2" stroke-width="0.5" stroke-linejoin="round"/>
<path d="M177.67,470.16 181.84,466.37 185.63,463.53 187.53,459.26 188.47,457.37 189.66,457.37 190.61,460.21 192.26,463.05 195.11,464.47 198.42,465.42 199.37,468.26 197.95,471.58 193.68,473.47 186.58,473.47 180.42,473.00 177.67,472.53 Z" fill="#8a8a8a" fill-opacity="0.075" stroke="#a2a2a2" stroke-width="0.5" stroke-linejoin="round"/>
<path d="M180.54,470.20 183.55,467.46 186.29,465.41 187.66,462.33 188.34,460.96 189.20,460.96 189.88,463.01 191.08,465.07 193.13,466.09 195.53,466.78 196.21,468.83 195.18,471.22 192.11,472.59 186.97,472.59 182.53,472.25 180.54,471.91 Z" fill="#8a8a8a" fill-opacity="0.075" stroke="#a2a2a2" stroke-width="0.5" stroke-linejoin="round"/>
<path d="M183.41,470.24 185.26,468.55 186.95,467.29 187.79,465.39 188.21,464.55 188.74,464.55 189.16,465.82 189.89,467.08 191.16,467.71 192.63,468.13 193.05,469.39 192.42,470.87 190.53,471.71 187.37,471.71 184.63,471.50 183.41,471.29 Z" fill="#8a8a8a" fill-opacity="0.075" stroke="#a2a2a2" stroke-width="0.5" stroke-linejoin="round"/>
<ellipse cx="188.00" cy="470.30" rx="3.0" ry="2.4" fill="#777" fill-opacity="0.22"/>
<circle cx="193.2" cy="419.7" r="0.5" fill="#999"/>
<path d="M196.50,444.00 L199.50,450.50 L205.00,452.80 L212.00,455.20 L214.50,462.00 L215.50,468.00 L214.00,473.50 L209.50,477.20 L200.00,479.50" stroke="#8f95b5" stroke-width="0.55" fill="none" stroke-linejoin="round" />
<path d="M197.00,452.00 L203.00,455.50 L209.00,458.00 L211.50,464.00 L210.50,470.00 L205.00,474.50 L198.00,476.50" stroke="#8f95b5" stroke-width="0.55" fill="none" stroke-linejoin="round" />
<path d="M196.50,483.10 L200.70,443.50 L233.80,418.80 L233.80,483.10 Z" stroke="#a4a8bc" stroke-width="0.8" fill="none" stroke-linejoin="round" />
<text x="216.20" y="453.80" font-size="5.9" text-anchor="middle" font-weight="normal" fill="#222" >15.3</text>
<rect x="165.80" y="413.10" width="77.70" height="77.90" fill="none" stroke="#1e1e1e" stroke-width="1.3" />
<line x1="162.60" y1="490.70" x2="165.80" y2="490.70" stroke="#1e1e1e" stroke-width="0.75" />
<line x1="164.10" y1="487.78" x2="165.80" y2="487.78" stroke="#1e1e1e" stroke-width="0.75" />
<line x1="164.10" y1="484.87" x2="165.80" y2="484.87" stroke="#1e1e1e" stroke-width="0.75" />
<line x1="164.10" y1="481.95" x2="165.80" y2="481.95" stroke="#1e1e1e" stroke-width="0.75" />
<line x1="164.10" y1="479.04" x2="165.80" y2="479.04" stroke="#1e1e1e" stroke-width="0.75" />
<line x1="162.60" y1="476.12" x2="165.80" y2="476.12" stroke="#1e1e1e" stroke-width="0.75" />
<line x1="164.10" y1="473.20" x2="165.80" y2="473.20" stroke="#1e1e1e" stroke-width="0.75" />
<line x1="164.10" y1="470.29" x2="165.80" y2="470.29" stroke="#1e1e1e" stroke-width="0.75" />
<line x1="164.10" y1="467.37" x2="165.80" y2="467.37" stroke="#1e1e1e" stroke-width="0.75" />
<line x1="164.10" y1="464.46" x2="165.80" y2="464.46" stroke="#1e1e1e" stroke-width="0.75" />
<line x1="162.60" y1="461.54" x2="165.80" y2="461.54" stroke="#1e1e1e" stroke-width="0.75" />
<line x1="164.10" y1="458.62" x2="165.80" y2="458.62" stroke="#1e1e1e" stroke-width="0.75" />
<line x1="164.10" y1="455.71" x2="165.80" y2="455.71" stroke="#1e1e1e" stroke-width="0.75" />
<line x1="164.10" y1="452.79" x2="165.80" y2="452.79" stroke="#1e1e1e" stroke-width="0.75" />
<line x1="164.10" y1="449.88" x2="165.80" y2="449.88" stroke="#1e1e1e" stroke-width="0.75" />
<line x1="162.60" y1="446.96" x2="165.80" y2="446.96" stroke="#1e1e1e" stroke-width="0.75" />
<line x1="164.10" y1="444.04" x2="165.80" y2="444.04" stroke="#1e1e1e" stroke-width="0.75" />
<line x1="164.10" y1="441.13" x2="165.80" y2="441.13" stroke="#1e1e1e" stroke-width="0.75" />
<line x1="164.10" y1="438.21" x2="165.80" y2="438.21" stroke="#1e1e1e" stroke-width="0.75" />
<line x1="164.10" y1="435.30" x2="165.80" y2="435.30" stroke="#1e1e1e" stroke-width="0.75" />
<line x1="162.60" y1="432.38" x2="165.80" y2="432.38" stroke="#1e1e1e" stroke-width="0.75" />
<line x1="164.10" y1="429.46" x2="165.80" y2="429.46" stroke="#1e1e1e" stroke-width="0.75" />
<line x1="164.10" y1="426.55" x2="165.80" y2="426.55" stroke="#1e1e1e" stroke-width="0.75" />
<line x1="164.10" y1="423.63" x2="165.80" y2="423.63" stroke="#1e1e1e" stroke-width="0.75" />
<line x1="164.10" y1="420.72" x2="165.80" y2="420.72" stroke="#1e1e1e" stroke-width="0.75" />
<line x1="162.60" y1="417.80" x2="165.80" y2="417.80" stroke="#1e1e1e" stroke-width="0.75" />
<text x="159.20" y="492.90" font-size="6.3" text-anchor="end" font-weight="normal" fill="#222" >0</text>
<text x="159.20" y="478.32" font-size="6.3" text-anchor="end" font-weight="normal" fill="#222" >50K</text>
<text x="159.20" y="463.74" font-size="6.3" text-anchor="end" font-weight="normal" fill="#222" >100K</text>
<text x="159.20" y="449.16" font-size="6.3" text-anchor="end" font-weight="normal" fill="#222" >150K</text>
<text x="159.20" y="434.58" font-size="6.3" text-anchor="end" font-weight="normal" fill="#222" >200K</text>
<text x="159.20" y="420.00" font-size="6.3" text-anchor="end" font-weight="normal" fill="#222" >250K</text>
<line x1="174.00" y1="491.00" x2="174.00" y2="493.80" stroke="#1e1e1e" stroke-width="0.8" />
<line x1="183.60" y1="491.00" x2="183.60" y2="493.80" stroke="#1e1e1e" stroke-width="0.8" />
<line x1="202.00" y1="491.00" x2="202.00" y2="493.80" stroke="#1e1e1e" stroke-width="0.8" />
<line x1="219.80" y1="491.00" x2="219.80" y2="493.80" stroke="#1e1e1e" stroke-width="0.8" />
<line x1="237.30" y1="491.00" x2="237.30" y2="493.80" stroke="#1e1e1e" stroke-width="0.8" />
<line x1="176.40" y1="491.00" x2="176.40" y2="493.30" stroke="#1e1e1e" stroke-width="0.85" />
<line x1="178.80" y1="491.00" x2="178.80" y2="493.30" stroke="#1e1e1e" stroke-width="0.85" />
<line x1="181.20" y1="491.00" x2="181.20" y2="493.30" stroke="#1e1e1e" stroke-width="0.85" />
<line x1="189.14" y1="491.00" x2="189.14" y2="493.30" stroke="#1e1e1e" stroke-width="0.85" />
<line x1="192.38" y1="491.00" x2="192.38" y2="493.30" stroke="#1e1e1e" stroke-width="0.85" />
<line x1="194.68" y1="491.00" x2="194.68" y2="493.30" stroke="#1e1e1e" stroke-width="0.85" />
<line x1="196.46" y1="491.00" x2="196.46" y2="493.30" stroke="#1e1e1e" stroke-width="0.85" />
<line x1="197.92" y1="491.00" x2="197.92" y2="493.30" stroke="#1e1e1e" stroke-width="0.85" />
<line x1="199.15" y1="491.00" x2="199.15" y2="493.30" stroke="#1e1e1e" stroke-width="0.85" />
<line x1="200.22" y1="491.00" x2="200.22" y2="493.30" stroke="#1e1e1e" stroke-width="0.85" />
<line x1="201.16" y1="491.00" x2="201.16" y2="493.30" stroke="#1e1e1e" stroke-width="0.85" />
<line x1="207.36" y1="491.00" x2="207.36" y2="493.30" stroke="#1e1e1e" stroke-width="0.85" />
<line x1="210.49" y1="491.00" x2="210.49" y2="493.30" stroke="#1e1e1e" stroke-width="0.85" />
<line x1="212.72" y1="491.00" x2="212.72" y2="493.30" stroke="#1e1e1e" stroke-width="0.85" />
<line x1="214.44" y1="491.00" x2="214.44" y2="493.30" stroke="#1e1e1e" stroke-width="0.85" />
<line x1="215.85" y1="491.00" x2="215.85" y2="493.30" stroke="#1e1e1e" stroke-width="0.85" />
<line x1="217.04" y1="491.00" x2="217.04" y2="493.30" stroke="#1e1e1e" stroke-width="0.85" />
<line x1="218.08" y1="491.00" x2="218.08" y2="493.30" stroke="#1e1e1e" stroke-width="0.85" />
<line x1="218.99" y1="491.00" x2="218.99" y2="493.30" stroke="#1e1e1e" stroke-width="0.85" />
<line x1="225.07" y1="491.00" x2="225.07" y2="493.30" stroke="#1e1e1e" stroke-width="0.85" />
<line x1="228.15" y1="491.00" x2="228.15" y2="493.30" stroke="#1e1e1e" stroke-width="0.85" />
<line x1="230.34" y1="491.00" x2="230.34" y2="493.30" stroke="#1e1e1e" stroke-width="0.85" />
<line x1="232.03" y1="491.00" x2="232.03" y2="493.30" stroke="#1e1e1e" stroke-width="0.85" />
<line x1="233.42" y1="491.00" x2="233.42" y2="493.30" stroke="#1e1e1e" stroke-width="0.85" />
<line x1="234.59" y1="491.00" x2="234.59" y2="493.30" stroke="#1e1e1e" stroke-width="0.85" />
<line x1="235.60" y1="491.00" x2="235.60" y2="493.30" stroke="#1e1e1e" stroke-width="0.85" />
<line x1="236.50" y1="491.00" x2="236.50" y2="493.30" stroke="#1e1e1e" stroke-width="0.85" />
<line x1="171.40" y1="491.00" x2="171.40" y2="493.30" stroke="#1e1e1e" stroke-width="0.85" />
<line x1="168.80" y1="491.00" x2="168.80" y2="493.30" stroke="#1e1e1e" stroke-width="0.85" />
<text x="174.00" y="502.90" font-size="6.2" text-anchor="middle" font-weight="normal" fill="#222" >0</text>
<text x="183.60" y="502.90" font-size="6.2" text-anchor="middle" fill="#222">10<tspan font-size="4.0" dy="-2.4">2</tspan></text>
<text x="202.00" y="502.90" font-size="6.2" text-anchor="middle" fill="#222">10<tspan font-size="4.0" dy="-2.4">3</tspan></text>
<text x="219.80" y="502.90" font-size="6.2" text-anchor="middle" fill="#222">10<tspan font-size="4.0" dy="-2.4">4</tspan></text>
<text x="237.30" y="502.90" font-size="6.2" text-anchor="middle" fill="#222">10<tspan font-size="4.0" dy="-2.4">5</tspan></text>
<path d="M53.50,572.30 63.80,561.90 72.50,554.10 80.30,551.20 87.20,553.30 92.40,560.20 93.30,568.80 90.70,579.20 84.60,582.70 72.50,582.70 60.40,580.00 53.50,578.00 Z" fill="#8a8a8a" fill-opacity="0.075" stroke="#a2a2a2" stroke-width="0.5" stroke-linejoin="round"/>
<path d="M56.68,572.64 65.63,563.61 73.18,556.84 79.96,554.32 85.95,556.14 90.47,562.13 91.25,569.60 88.99,578.63 83.69,581.67 73.18,581.67 62.68,579.33 56.68,577.59 Z" fill="#8a8a8a" fill-opacity="0.075" stroke="#a2a2a2" stroke-width="0.5" stroke-linejoin="round"/>
<path d="M59.87,572.98 67.46,565.32 73.87,559.57 79.62,557.44 84.70,558.98 88.53,564.07 89.19,570.41 87.28,578.07 82.78,580.65 73.87,580.65 64.95,578.66 59.87,577.18 Z" fill="#8a8a8a" fill-opacity="0.075" stroke="#a2a2a2" stroke-width="0.5" stroke-linejoin="round"/>
<path d="M63.05,573.33 69.29,567.03 74.55,562.31 79.27,560.56 83.45,561.83 86.60,566.00 87.14,571.21 85.57,577.50 81.88,579.62 74.55,579.62 67.23,577.99 63.05,576.78 Z" fill="#8a8a8a" fill-opacity="0.075" stroke="#a2a2a2" stroke-width="0.5" stroke-linejoin="round"/>
<path d="M66.24,573.67 71.12,568.74 75.24,565.05 78.93,563.67 82.20,564.67 84.66,567.94 85.09,572.01 83.86,576.94 80.97,578.59 75.24,578.59 69.51,577.32 66.24,576.37 Z" fill="#8a8a8a" fill-opacity="0.075" stroke="#a2a2a2" stroke-width="0.5" stroke-linejoin="round"/>
<path d="M69.42,574.01 72.94,570.45 75.92,567.78 78.59,566.79 80.95,567.51 82.73,569.87 83.04,572.81 82.15,576.37 80.06,577.57 75.92,577.57 71.78,576.64 69.42,575.96 Z" fill="#8a8a8a" fill-opacity="0.075" stroke="#a2a2a2" stroke-width="0.5" stroke-linejoin="round"/>
<path d="M72.61,574.35 74.77,572.16 76.61,570.52 78.25,569.91 79.70,570.35 80.79,571.81 80.98,573.62 80.44,575.81 79.15,576.54 76.61,576.54 74.06,575.97 72.61,575.55 Z" fill="#8a8a8a" fill-opacity="0.075" stroke="#a2a2a2" stroke-width="0.5" stroke-linejoin="round"/>
<ellipse cx="77.70" cy="574.90" rx="3.0" ry="2.4" fill="#777" fill-opacity="0.22"/>
<path d="M89.50,553.50 L92.00,560.20 L93.30,568.80 L90.70,579.20 L88.60,581.00" stroke="#8f95b5" stroke-width="0.55" fill="none" stroke-linejoin="round" />
<path d="M88.40,587.00 L92.40,558.00 L92.90,546.70 L126.10,523.00 L126.10,587.00 Z" stroke="#a4a8bc" stroke-width="0.8" fill="none" stroke-linejoin="round" />
<text x="107.80" y="557.40" font-size="5.9" text-anchor="middle" font-weight="normal" fill="#222" >2.51</text>
<rect x="53.70" y="517.20" width="77.80" height="77.60" fill="none" stroke="#1e1e1e" stroke-width="1.3" />
<line x1="50.50" y1="594.50" x2="53.70" y2="594.50" stroke="#1e1e1e" stroke-width="0.75" />
<line x1="52.00" y1="591.60" x2="53.70" y2="591.60" stroke="#1e1e1e" stroke-width="0.75" />
<line x1="52.00" y1="588.69" x2="53.70" y2="588.69" stroke="#1e1e1e" stroke-width="0.75" />
<line x1="52.00" y1="585.79" x2="53.70" y2="585.79" stroke="#1e1e1e" stroke-width="0.75" />
<line x1="52.00" y1="582.88" x2="53.70" y2="582.88" stroke="#1e1e1e" stroke-width="0.75" />
<line x1="50.50" y1="579.98" x2="53.70" y2="579.98" stroke="#1e1e1e" stroke-width="0.75" />
<line x1="52.00" y1="577.08" x2="53.70" y2="577.08" stroke="#1e1e1e" stroke-width="0.75" />
<line x1="52.00" y1="574.17" x2="53.70" y2="574.17" stroke="#1e1e1e" stroke-width="0.75" />
<line x1="52.00" y1="571.27" x2="53.70" y2="571.27" stroke="#1e1e1e" stroke-width="0.75" />
<line x1="52.00" y1="568.36" x2="53.70" y2="568.36" stroke="#1e1e1e" stroke-width="0.75" />
<line x1="50.50" y1="565.46" x2="53.70" y2="565.46" stroke="#1e1e1e" stroke-width="0.75" />
<line x1="52.00" y1="562.56" x2="53.70" y2="562.56" stroke="#1e1e1e" stroke-width="0.75" />
<line x1="52.00" y1="559.65" x2="53.70" y2="559.65" stroke="#1e1e1e" stroke-width="0.75" />
<line x1="52.00" y1="556.75" x2="53.70" y2="556.75" stroke="#1e1e1e" stroke-width="0.75" />
<line x1="52.00" y1="553.84" x2="53.70" y2="553.84" stroke="#1e1e1e" stroke-width="0.75" />
<line x1="50.50" y1="550.94" x2="53.70" y2="550.94" stroke="#1e1e1e" stroke-width="0.75" />
<line x1="52.00" y1="548.04" x2="53.70" y2="548.04" stroke="#1e1e1e" stroke-width="0.75" />
<line x1="52.00" y1="545.13" x2="53.70" y2="545.13" stroke="#1e1e1e" stroke-width="0.75" />
<line x1="52.00" y1="542.23" x2="53.70" y2="542.23" stroke="#1e1e1e" stroke-width="0.75" />
<line x1="52.00" y1="539.32" x2="53.70" y2="539.32" stroke="#1e1e1e" stroke-width="0.75" />
<line x1="50.50" y1="536.42" x2="53.70" y2="536.42" stroke="#1e1e1e" stroke-width="0.75" />
<line x1="52.00" y1="533.52" x2="53.70" y2="533.52" stroke="#1e1e1e" stroke-width="0.75" />
<line x1="52.00" y1="530.61" x2="53.70" y2="530.61" stroke="#1e1e1e" stroke-width="0.75" />
<line x1="52.00" y1="527.71" x2="53.70" y2="527.71" stroke="#1e1e1e" stroke-width="0.75" />
<line x1="52.00" y1="524.80" x2="53.70" y2="524.80" stroke="#1e1e1e" stroke-width="0.75" />
<line x1="50.50" y1="521.90" x2="53.70" y2="521.90" stroke="#1e1e1e" stroke-width="0.75" />
<text x="46.40" y="596.70" font-size="6.3" text-anchor="end" font-weight="normal" fill="#222" >0</text>
<text x="46.40" y="582.18" font-size="6.3" text-anchor="end" font-weight="normal" fill="#222" >50K</text>
<text x="46.40" y="567.66" font-size="6.3" text-anchor="end" font-weight="normal" fill="#222" >100K</text>
<text x="46.40" y="553.14" font-size="6.3" text-anchor="end" font-weight="normal" fill="#222" >150K</text>
<text x="46.40" y="538.62" font-size="6.3" text-anchor="end" font-weight="normal" fill="#222" >200K</text>
<text x="46.40" y="524.10" font-size="6.3" text-anchor="end" font-weight="normal" fill="#222" >250K</text>
<line x1="61.00" y1="594.80" x2="61.00" y2="597.60" stroke="#1e1e1e" stroke-width="0.8" />
<line x1="70.60" y1="594.80" x2="70.60" y2="597.60" stroke="#1e1e1e" stroke-width="0.8" />
<line x1="88.40" y1="594.80" x2="88.40" y2="597.60" stroke="#1e1e1e" stroke-width="0.8" />
<line x1="106.00" y1="594.80" x2="106.00" y2="597.60" stroke="#1e1e1e" stroke-width="0.8" />
<line x1="123.50" y1="594.80" x2="123.50" y2="597.60" stroke="#1e1e1e" stroke-width="0.8" />
<line x1="63.40" y1="594.80" x2="63.40" y2="597.10" stroke="#1e1e1e" stroke-width="0.85" />
<line x1="65.80" y1="594.80" x2="65.80" y2="597.10" stroke="#1e1e1e" stroke-width="0.85" />
<line x1="68.20" y1="594.80" x2="68.20" y2="597.10" stroke="#1e1e1e" stroke-width="0.85" />
<line x1="75.96" y1="594.80" x2="75.96" y2="597.10" stroke="#1e1e1e" stroke-width="0.85" />
<line x1="79.09" y1="594.80" x2="79.09" y2="597.10" stroke="#1e1e1e" stroke-width="0.85" />
<line x1="81.32" y1="594.80" x2="81.32" y2="597.10" stroke="#1e1e1e" stroke-width="0.85" />
<line x1="83.04" y1="594.80" x2="83.04" y2="597.10" stroke="#1e1e1e" stroke-width="0.85" />
<line x1="84.45" y1="594.80" x2="84.45" y2="597.10" stroke="#1e1e1e" stroke-width="0.85" />
<line x1="85.64" y1="594.80" x2="85.64" y2="597.10" stroke="#1e1e1e" stroke-width="0.85" />
<line x1="86.68" y1="594.80" x2="86.68" y2="597.10" stroke="#1e1e1e" stroke-width="0.85" />
<line x1="87.59" y1="594.80" x2="87.59" y2="597.10" stroke="#1e1e1e" stroke-width="0.85" />
<line x1="93.70" y1="594.80" x2="93.70" y2="597.10" stroke="#1e1e1e" stroke-width="0.85" />
<line x1="96.80" y1="594.80" x2="96.80" y2="597.10" stroke="#1e1e1e" stroke-width="0.85" />
<line x1="99.00" y1="594.80" x2="99.00" y2="597.10" stroke="#1e1e1e" stroke-width="0.85" />
<line x1="100.70" y1="594.80" x2="100.70" y2="597.10" stroke="#1e1e1e" stroke-width="0.85" />
<line x1="102.10" y1="594.80" x2="102.10" y2="597.10" stroke="#1e1e1e" stroke-width="0.85" />
<line x1="103.27" y1="594.80" x2="103.27" y2="597.10" stroke="#1e1e1e" stroke-width="0.85" />
<line x1="104.29" y1="594.80" x2="104.29" y2="597.10" stroke="#1e1e1e" stroke-width="0.85" />
<line x1="105.19" y1="594.80" x2="105.19" y2="597.10" stroke="#1e1e1e" stroke-width="0.85" />
<line x1="111.27" y1="594.80" x2="111.27" y2="597.10" stroke="#1e1e1e" stroke-width="0.85" />
<line x1="114.35" y1="594.80" x2="114.35" y2="597.10" stroke="#1e1e1e" stroke-width="0.85" />
<line x1="116.54" y1="594.80" x2="116.54" y2="597.10" stroke="#1e1e1e" stroke-width="0.85" />
<line x1="118.23" y1="594.80" x2="118.23" y2="597.10" stroke="#1e1e1e" stroke-width="0.85" />
<line x1="119.62" y1="594.80" x2="119.62" y2="597.10" stroke="#1e1e1e" stroke-width="0.85" />
<line x1="120.79" y1="594.80" x2="120.79" y2="597.10" stroke="#1e1e1e" stroke-width="0.85" />
<line x1="121.80" y1="594.80" x2="121.80" y2="597.10" stroke="#1e1e1e" stroke-width="0.85" />
<line x1="122.70" y1="594.80" x2="122.70" y2="597.10" stroke="#1e1e1e" stroke-width="0.85" />
<line x1="58.40" y1="594.80" x2="58.40" y2="597.10" stroke="#1e1e1e" stroke-width="0.85" />
<line x1="55.80" y1="594.80" x2="55.80" y2="597.10" stroke="#1e1e1e" stroke-width="0.85" />
<text x="61.00" y="606.60" font-size="6.2" text-anchor="middle" font-weight="normal" fill="#222" >0</text>
<text x="70.60" y="606.60" font-size="6.2" text-anchor="middle" fill="#222">10<tspan font-size="4.0" dy="-2.4">2</tspan></text>
<text x="88.40" y="606.60" font-size="6.2" text-anchor="middle" fill="#222">10<tspan font-size="4.0" dy="-2.4">3</tspan></text>
<text x="106.00" y="606.60" font-size="6.2" text-anchor="middle" fill="#222">10<tspan font-size="4.0" dy="-2.4">4</tspan></text>
<text x="123.50" y="606.60" font-size="6.2" text-anchor="middle" fill="#222">10<tspan font-size="4.0" dy="-2.4">5</tspan></text>
<path d="M168.20,573.90 173.50,568.60 179.80,565.40 184.00,561.20 190.40,554.80 196.70,552.70 205.20,552.20 209.40,555.90 213.70,561.20 216.90,567.50 216.30,573.90 211.60,577.60 205.20,581.30 196.70,584.40 186.20,585.00 175.60,583.40 169.20,581.30 168.20,578.00 Z" fill="#8a8a8a" fill-opacity="0.075" stroke="#a2a2a2" stroke-width="0.5" stroke-linejoin="round"/>
<path d="M170.98,573.98 175.58,569.38 181.05,566.60 184.70,562.95 190.26,557.39 195.73,555.57 203.11,555.13 206.76,558.35 210.49,562.95 213.27,568.42 212.75,573.98 208.67,577.19 203.11,580.41 195.73,583.10 186.61,583.62 177.40,582.23 171.84,580.41 170.98,577.54 Z" fill="#8a8a8a" fill-opacity="0.075" stroke="#a2a2a2" stroke-width="0.5" stroke-linejoin="round"/>
<path d="M173.75,574.06 177.66,570.15 182.30,567.79 185.39,564.70 190.11,559.98 194.75,558.44 201.02,558.07 204.11,560.79 207.28,564.70 209.64,569.34 209.19,574.06 205.73,576.78 201.02,579.51 194.75,581.79 187.02,582.24 179.21,581.06 174.49,579.51 173.75,577.08 Z" fill="#8a8a8a" fill-opacity="0.075" stroke="#a2a2a2" stroke-width="0.5" stroke-linejoin="round"/>
<path d="M176.53,574.14 179.74,570.93 183.55,568.99 186.09,566.45 189.97,562.58 193.78,561.31 198.92,561.00 201.47,563.24 204.07,566.45 206.01,570.26 205.64,574.14 202.80,576.38 198.92,578.62 193.78,580.49 187.42,580.86 181.01,579.89 177.13,578.62 176.53,576.62 Z" fill="#8a8a8a" fill-opacity="0.075" stroke="#a2a2a2" stroke-width="0.5" stroke-linejoin="round"/>
<path d="M179.31,574.22 181.82,571.71 184.80,570.19 186.79,568.20 189.82,565.17 192.81,564.17 196.83,563.94 198.82,565.69 200.86,568.20 202.37,571.18 202.09,574.22 199.86,575.97 196.83,577.72 192.81,579.19 187.83,579.47 182.81,578.72 179.78,577.72 179.31,576.16 Z" fill="#8a8a8a" fill-opacity="0.075" stroke="#a2a2a2" stroke-width="0.5" stroke-linejoin="round"/>
<path d="M182.08,574.29 183.89,572.48 186.05,571.39 187.49,569.95 189.68,567.76 191.83,567.04 194.74,566.87 196.18,568.14 197.65,569.95 198.74,572.11 198.54,574.29 196.93,575.56 194.74,576.83 191.83,577.89 188.24,578.09 184.61,577.54 182.42,576.83 182.08,575.70 Z" fill="#8a8a8a" fill-opacity="0.075" stroke="#a2a2a2" stroke-width="0.5" stroke-linejoin="round"/>
<path d="M184.86,574.37 185.97,573.26 187.30,572.58 188.18,571.70 189.53,570.35 190.86,569.91 192.65,569.81 193.53,570.58 194.44,571.70 195.11,573.03 194.98,574.37 193.99,575.15 192.65,575.93 190.86,576.58 188.65,576.71 186.42,576.37 185.07,575.93 184.86,575.24 Z" fill="#8a8a8a" fill-opacity="0.075" stroke="#a2a2a2" stroke-width="0.5" stroke-linejoin="round"/>
<ellipse cx="189.30" cy="574.50" rx="3.0" ry="2.4" fill="#777" fill-opacity="0.22"/>
<path d="M202.00,553.00 L205.50,552.30 L209.50,556.00 L213.80,561.30 L216.90,567.50 L216.30,574.00 L211.60,577.60 L205.20,581.30 L201.50,582.80" stroke="#8f95b5" stroke-width="0.55" fill="none" stroke-linejoin="round" />
<path d="M202.00,557.00 L207.00,559.00 L211.00,564.00 L212.50,570.00 L210.00,575.00 L204.50,578.50" stroke="#8f95b5" stroke-width="0.55" fill="none" stroke-linejoin="round" />
<path d="M201.40,587.00 L202.00,553.00 L206.00,547.90 L239.00,523.00 L239.00,587.00 Z" stroke="#a4a8bc" stroke-width="0.8" fill="none" stroke-linejoin="round" />
<text x="221.00" y="557.50" font-size="5.9" text-anchor="middle" font-weight="normal" fill="#222" >11.2</text>
<rect x="165.80" y="517.20" width="78.60" height="77.60" fill="none" stroke="#1e1e1e" stroke-width="1.3" />
<line x1="162.60" y1="594.50" x2="165.80" y2="594.50" stroke="#1e1e1e" stroke-width="0.75" />
<line x1="164.10" y1="591.60" x2="165.80" y2="591.60" stroke="#1e1e1e" stroke-width="0.75" />
<line x1="164.10" y1="588.69" x2="165.80" y2="588.69" stroke="#1e1e1e" stroke-width="0.75" />
<line x1="164.10" y1="585.79" x2="165.80" y2="585.79" stroke="#1e1e1e" stroke-width="0.75" />
<line x1="164.10" y1="582.88" x2="165.80" y2="582.88" stroke="#1e1e1e" stroke-width="0.75" />
<line x1="162.60" y1="579.98" x2="165.80" y2="579.98" stroke="#1e1e1e" stroke-width="0.75" />
<line x1="164.10" y1="577.08" x2="165.80" y2="577.08" stroke="#1e1e1e" stroke-width="0.75" />
<line x1="164.10" y1="574.17" x2="165.80" y2="574.17" stroke="#1e1e1e" stroke-width="0.75" />
<line x1="164.10" y1="571.27" x2="165.80" y2="571.27" stroke="#1e1e1e" stroke-width="0.75" />
<line x1="164.10" y1="568.36" x2="165.80" y2="568.36" stroke="#1e1e1e" stroke-width="0.75" />
<line x1="162.60" y1="565.46" x2="165.80" y2="565.46" stroke="#1e1e1e" stroke-width="0.75" />
<line x1="164.10" y1="562.56" x2="165.80" y2="562.56" stroke="#1e1e1e" stroke-width="0.75" />
<line x1="164.10" y1="559.65" x2="165.80" y2="559.65" stroke="#1e1e1e" stroke-width="0.75" />
<line x1="164.10" y1="556.75" x2="165.80" y2="556.75" stroke="#1e1e1e" stroke-width="0.75" />
<line x1="164.10" y1="553.84" x2="165.80" y2="553.84" stroke="#1e1e1e" stroke-width="0.75" />
<line x1="162.60" y1="550.94" x2="165.80" y2="550.94" stroke="#1e1e1e" stroke-width="0.75" />
<line x1="164.10" y1="548.04" x2="165.80" y2="548.04" stroke="#1e1e1e" stroke-width="0.75" />
<line x1="164.10" y1="545.13" x2="165.80" y2="545.13" stroke="#1e1e1e" stroke-width="0.75" />
<line x1="164.10" y1="542.23" x2="165.80" y2="542.23" stroke="#1e1e1e" stroke-width="0.75" />
<line x1="164.10" y1="539.32" x2="165.80" y2="539.32" stroke="#1e1e1e" stroke-width="0.75" />
<line x1="162.60" y1="536.42" x2="165.80" y2="536.42" stroke="#1e1e1e" stroke-width="0.75" />
<line x1="164.10" y1="533.52" x2="165.80" y2="533.52" stroke="#1e1e1e" stroke-width="0.75" />
<line x1="164.10" y1="530.61" x2="165.80" y2="530.61" stroke="#1e1e1e" stroke-width="0.75" />
<line x1="164.10" y1="527.71" x2="165.80" y2="527.71" stroke="#1e1e1e" stroke-width="0.75" />
<line x1="164.10" y1="524.80" x2="165.80" y2="524.80" stroke="#1e1e1e" stroke-width="0.75" />
<line x1="162.60" y1="521.90" x2="165.80" y2="521.90" stroke="#1e1e1e" stroke-width="0.75" />
<text x="159.20" y="596.70" font-size="6.3" text-anchor="end" font-weight="normal" fill="#222" >0</text>
<text x="159.20" y="582.18" font-size="6.3" text-anchor="end" font-weight="normal" fill="#222" >50K</text>
<text x="159.20" y="567.66" font-size="6.3" text-anchor="end" font-weight="normal" fill="#222" >100K</text>
<text x="159.20" y="553.14" font-size="6.3" text-anchor="end" font-weight="normal" fill="#222" >150K</text>
<text x="159.20" y="538.62" font-size="6.3" text-anchor="end" font-weight="normal" fill="#222" >200K</text>
<text x="159.20" y="524.10" font-size="6.3" text-anchor="end" font-weight="normal" fill="#222" >250K</text>
<line x1="173.80" y1="594.80" x2="173.80" y2="597.60" stroke="#1e1e1e" stroke-width="0.8" />
<line x1="183.50" y1="594.80" x2="183.50" y2="597.60" stroke="#1e1e1e" stroke-width="0.8" />
<line x1="201.40" y1="594.80" x2="201.40" y2="597.60" stroke="#1e1e1e" stroke-width="0.8" />
<line x1="219.50" y1="594.80" x2="219.50" y2="597.60" stroke="#1e1e1e" stroke-width="0.8" />
<line x1="237.30" y1="594.80" x2="237.30" y2="597.60" stroke="#1e1e1e" stroke-width="0.8" />
<line x1="176.23" y1="594.80" x2="176.23" y2="597.10" stroke="#1e1e1e" stroke-width="0.85" />
<line x1="178.65" y1="594.80" x2="178.65" y2="597.10" stroke="#1e1e1e" stroke-width="0.85" />
<line x1="181.07" y1="594.80" x2="181.07" y2="597.10" stroke="#1e1e1e" stroke-width="0.85" />
<line x1="188.89" y1="594.80" x2="188.89" y2="597.10" stroke="#1e1e1e" stroke-width="0.85" />
<line x1="192.04" y1="594.80" x2="192.04" y2="597.10" stroke="#1e1e1e" stroke-width="0.85" />
<line x1="194.28" y1="594.80" x2="194.28" y2="597.10" stroke="#1e1e1e" stroke-width="0.85" />
<line x1="196.01" y1="594.80" x2="196.01" y2="597.10" stroke="#1e1e1e" stroke-width="0.85" />
<line x1="197.43" y1="594.80" x2="197.43" y2="597.10" stroke="#1e1e1e" stroke-width="0.85" />
<line x1="198.63" y1="594.80" x2="198.63" y2="597.10" stroke="#1e1e1e" stroke-width="0.85" />
<line x1="199.67" y1="594.80" x2="199.67" y2="597.10" stroke="#1e1e1e" stroke-width="0.85" />
<line x1="200.58" y1="594.80" x2="200.58" y2="597.10" stroke="#1e1e1e" stroke-width="0.85" />
<line x1="206.85" y1="594.80" x2="206.85" y2="597.10" stroke="#1e1e1e" stroke-width="0.85" />
<line x1="210.04" y1="594.80" x2="210.04" y2="597.10" stroke="#1e1e1e" stroke-width="0.85" />
<line x1="212.30" y1="594.80" x2="212.30" y2="597.10" stroke="#1e1e1e" stroke-width="0.85" />
<line x1="214.05" y1="594.80" x2="214.05" y2="597.10" stroke="#1e1e1e" stroke-width="0.85" />
<line x1="215.48" y1="594.80" x2="215.48" y2="597.10" stroke="#1e1e1e" stroke-width="0.85" />
<line x1="216.70" y1="594.80" x2="216.70" y2="597.10" stroke="#1e1e1e" stroke-width="0.85" />
<line x1="217.75" y1="594.80" x2="217.75" y2="597.10" stroke="#1e1e1e" stroke-width="0.85" />
<line x1="218.67" y1="594.80" x2="218.67" y2="597.10" stroke="#1e1e1e" stroke-width="0.85" />
<line x1="224.86" y1="594.80" x2="224.86" y2="597.10" stroke="#1e1e1e" stroke-width="0.85" />
<line x1="227.99" y1="594.80" x2="227.99" y2="597.10" stroke="#1e1e1e" stroke-width="0.85" />
<line x1="230.22" y1="594.80" x2="230.22" y2="597.10" stroke="#1e1e1e" stroke-width="0.85" />
<line x1="231.94" y1="594.80" x2="231.94" y2="597.10" stroke="#1e1e1e" stroke-width="0.85" />
<line x1="233.35" y1="594.80" x2="233.35" y2="597.10" stroke="#1e1e1e" stroke-width="0.85" />
<line x1="234.54" y1="594.80" x2="234.54" y2="597.10" stroke="#1e1e1e" stroke-width="0.85" />
<line x1="235.58" y1="594.80" x2="235.58" y2="597.10" stroke="#1e1e1e" stroke-width="0.85" />
<line x1="236.49" y1="594.80" x2="236.49" y2="597.10" stroke="#1e1e1e" stroke-width="0.85" />
<line x1="171.20" y1="594.80" x2="171.20" y2="597.10" stroke="#1e1e1e" stroke-width="0.85" />
<line x1="168.60" y1="594.80" x2="168.60" y2="597.10" stroke="#1e1e1e" stroke-width="0.85" />
<text x="173.80" y="606.60" font-size="6.2" text-anchor="middle" font-weight="normal" fill="#222" >0</text>
<text x="183.50" y="606.60" font-size="6.2" text-anchor="middle" fill="#222">10<tspan font-size="4.0" dy="-2.4">2</tspan></text>
<text x="201.40" y="606.60" font-size="6.2" text-anchor="middle" fill="#222">10<tspan font-size="4.0" dy="-2.4">3</tspan></text>
<text x="219.50" y="606.60" font-size="6.2" text-anchor="middle" fill="#222">10<tspan font-size="4.0" dy="-2.4">4</tspan></text>
<text x="237.30" y="606.60" font-size="6.2" text-anchor="middle" fill="#222">10<tspan font-size="4.0" dy="-2.4">5</tspan></text>
<line x1="331.60" y1="429.90" x2="331.60" y2="553.40" stroke="#1e1e1e" stroke-width="1.2" />
<line x1="331.60" y1="553.40" x2="512.00" y2="553.40" stroke="#1e1e1e" stroke-width="1.2" />
<line x1="328.10" y1="553.20" x2="331.60" y2="553.20" stroke="#1e1e1e" stroke-width="1" />
<text x="325.60" y="556.00" font-size="7.8" text-anchor="end" font-weight="normal" fill="#222" >0</text>
<line x1="328.10" y1="528.98" x2="331.60" y2="528.98" stroke="#1e1e1e" stroke-width="1" />
<text x="325.60" y="531.78" font-size="7.8" text-anchor="end" font-weight="normal" fill="#222" >5</text>
<line x1="328.10" y1="504.76" x2="331.60" y2="504.76" stroke="#1e1e1e" stroke-width="1" />
<text x="325.60" y="507.56" font-size="7.8" text-anchor="end" font-weight="normal" fill="#222" >10</text>
<line x1="328.10" y1="480.54" x2="331.60" y2="480.54" stroke="#1e1e1e" stroke-width="1" />
<text x="325.60" y="483.34" font-size="7.8" text-anchor="end" font-weight="normal" fill="#222" >15</text>
<line x1="328.10" y1="456.32" x2="331.60" y2="456.32" stroke="#1e1e1e" stroke-width="1" />
<text x="325.60" y="459.12" font-size="7.8" text-anchor="end" font-weight="normal" fill="#222" >20</text>
<line x1="328.10" y1="432.10" x2="331.60" y2="432.10" stroke="#1e1e1e" stroke-width="1" />
<text x="325.60" y="434.90" font-size="7.8" text-anchor="end" font-weight="normal" fill="#222" >25</text>
<text transform="translate(311.5,491.8) rotate(-90)" font-size="9.8" text-anchor="middle" fill="#1a1a1a" textLength="36.2" lengthAdjust="spacingAndGlyphs">% CD14+</text>
<rect x="338.20" y="535.57" width="5.90" height="17.83" fill="#2e4f8a" stroke="none" stroke-width="1" />
<line x1="341.15" y1="534.31" x2="341.15" y2="535.57" stroke="#111" stroke-width="0.9" />
<line x1="339.15" y1="534.31" x2="343.15" y2="534.31" stroke="#111" stroke-width="1" />
<line x1="341.15" y1="553.40" x2="341.15" y2="556.40" stroke="#1e1e1e" stroke-width="0.9" />
<rect x="347.40" y="530.09" width="5.90" height="23.31" fill="#2e4f8a" stroke="none" stroke-width="1" />
<line x1="350.35" y1="553.40" x2="350.35" y2="556.40" stroke="#1e1e1e" stroke-width="0.9" />
<rect x="356.20" y="516.48" width="5.90" height="36.92" fill="#2e4f8a" stroke="none" stroke-width="1" />
<line x1="359.15" y1="514.93" x2="359.15" y2="516.48" stroke="#111" stroke-width="0.9" />
<line x1="357.15" y1="514.93" x2="361.15" y2="514.93" stroke="#111" stroke-width="1" />
<line x1="359.15" y1="553.40" x2="359.15" y2="556.40" stroke="#1e1e1e" stroke-width="0.9" />
<rect x="365.60" y="492.36" width="5.90" height="61.04" fill="#2e4f8a" stroke="none" stroke-width="1" />
<line x1="368.55" y1="491.68" x2="368.55" y2="492.36" stroke="#111" stroke-width="0.9" />
<line x1="366.55" y1="491.68" x2="370.55" y2="491.68" stroke="#111" stroke-width="1" />
<line x1="368.55" y1="553.40" x2="368.55" y2="556.40" stroke="#1e1e1e" stroke-width="0.9" />
<text transform="translate(345.35,563.60) rotate(-45)" font-size="7.2" text-anchor="end" fill="#222">0</text>
<text transform="translate(354.55,563.60) rotate(-45)" font-size="7.2" text-anchor="end" fill="#222">7</text>
<text transform="translate(363.35,563.60) rotate(-45)" font-size="7.2" text-anchor="end" fill="#222">10</text>
<text transform="translate(372.75,563.60) rotate(-45)" font-size="7.2" text-anchor="end" fill="#222">14</text>
<rect x="383.10" y="537.41" width="5.90" height="15.99" fill="#b30c30" stroke="none" stroke-width="1" />
<line x1="386.05" y1="534.79" x2="386.05" y2="537.41" stroke="#111" stroke-width="0.9" />
<line x1="384.05" y1="534.79" x2="388.05" y2="534.79" stroke="#111" stroke-width="1" />
<line x1="386.05" y1="553.40" x2="386.05" y2="556.40" stroke="#1e1e1e" stroke-width="0.9" />
<rect x="392.40" y="537.41" width="5.90" height="15.99" fill="#b30c30" stroke="none" stroke-width="1" />
<line x1="395.35" y1="534.79" x2="395.35" y2="537.41" stroke="#111" stroke-width="0.9" />
<line x1="393.35" y1="534.79" x2="397.35" y2="534.79" stroke="#111" stroke-width="1" />
<line x1="395.35" y1="553.40" x2="395.35" y2="556.40" stroke="#1e1e1e" stroke-width="0.9" />
<rect x="401.10" y="521.96" width="5.90" height="31.44" fill="#b30c30" stroke="none" stroke-width="1" />
<line x1="404.05" y1="517.84" x2="404.05" y2="521.96" stroke="#111" stroke-width="0.9" />
<line x1="402.05" y1="517.84" x2="406.05" y2="517.84" stroke="#111" stroke-width="1" />
<line x1="404.05" y1="553.40" x2="404.05" y2="556.40" stroke="#1e1e1e" stroke-width="0.9" />
<rect x="410.60" y="481.99" width="5.90" height="71.41" fill="#b30c30" stroke="none" stroke-width="1" />
<line x1="413.55" y1="475.21" x2="413.55" y2="481.99" stroke="#111" stroke-width="0.9" />
<line x1="411.55" y1="475.21" x2="415.55" y2="475.21" stroke="#111" stroke-width="1" />
<line x1="413.55" y1="553.40" x2="413.55" y2="556.40" stroke="#1e1e1e" stroke-width="0.9" />
<text transform="translate(390.25,563.60) rotate(-45)" font-size="7.2" text-anchor="end" fill="#222">0</text>
<text transform="translate(399.55,563.60) rotate(-45)" font-size="7.2" text-anchor="end" fill="#222">7</text>
<text transform="translate(408.25,563.60) rotate(-45)" font-size="7.2" text-anchor="end" fill="#222">10</text>
<text transform="translate(417.75,563.60) rotate(-45)" font-size="7.2" text-anchor="end" fill="#222">14</text>
<rect x="428.30" y="549.32" width="5.90" height="4.08" fill="#73b843" stroke="none" stroke-width="1" />
<line x1="431.25" y1="553.40" x2="431.25" y2="556.40" stroke="#1e1e1e" stroke-width="0.9" />
<rect x="437.10" y="549.81" width="5.90" height="3.59" fill="#73b843" stroke="none" stroke-width="1" />
<line x1="440.05" y1="553.40" x2="440.05" y2="556.40" stroke="#1e1e1e" stroke-width="0.9" />
<rect x="446.30" y="544.19" width="5.90" height="9.21" fill="#73b843" stroke="none" stroke-width="1" />
<line x1="449.25" y1="543.51" x2="449.25" y2="544.19" stroke="#111" stroke-width="0.9" />
<line x1="447.25" y1="543.51" x2="451.25" y2="543.51" stroke="#111" stroke-width="1" />
<line x1="449.25" y1="553.40" x2="449.25" y2="556.40" stroke="#1e1e1e" stroke-width="0.9" />
<rect x="455.50" y="505.58" width="5.90" height="47.82" fill="#73b843" stroke="none" stroke-width="1" />
<line x1="458.45" y1="504.28" x2="458.45" y2="505.58" stroke="#111" stroke-width="0.9" />
<line x1="456.45" y1="504.28" x2="460.45" y2="504.28" stroke="#111" stroke-width="1" />
<line x1="458.45" y1="553.40" x2="458.45" y2="556.40" stroke="#1e1e1e" stroke-width="0.9" />
<text transform="translate(435.45,563.60) rotate(-45)" font-size="7.2" text-anchor="end" fill="#222">0</text>
<text transform="translate(444.25,563.60) rotate(-45)" font-size="7.2" text-anchor="end" fill="#222">7</text>
<text transform="translate(453.45,563.60) rotate(-45)" font-size="7.2" text-anchor="end" fill="#222">10</text>
<text transform="translate(462.65,563.60) rotate(-45)" font-size="7.2" text-anchor="end" fill="#222">14</text>
<rect x="473.10" y="544.63" width="5.90" height="8.77" fill="#4b2a6c" stroke="none" stroke-width="1" />
<line x1="476.05" y1="542.54" x2="476.05" y2="544.63" stroke="#111" stroke-width="0.9" />
<line x1="474.05" y1="542.54" x2="478.05" y2="542.54" stroke="#111" stroke-width="1" />
<line x1="476.05" y1="553.40" x2="476.05" y2="556.40" stroke="#1e1e1e" stroke-width="0.9" />
<rect x="482.50" y="551.89" width="5.90" height="1.51" fill="#4b2a6c" stroke="none" stroke-width="1" />
<line x1="485.45" y1="553.40" x2="485.45" y2="556.40" stroke="#1e1e1e" stroke-width="0.9" />
<rect x="491.30" y="548.36" width="5.90" height="5.04" fill="#4b2a6c" stroke="none" stroke-width="1" />
<line x1="494.25" y1="547.87" x2="494.25" y2="548.36" stroke="#111" stroke-width="0.9" />
<line x1="492.25" y1="547.87" x2="496.25" y2="547.87" stroke="#111" stroke-width="1" />
<line x1="494.25" y1="553.40" x2="494.25" y2="556.40" stroke="#1e1e1e" stroke-width="0.9" />
<rect x="500.50" y="540.12" width="5.90" height="13.28" fill="#4b2a6c" stroke="none" stroke-width="1" />
<line x1="503.45" y1="538.18" x2="503.45" y2="540.12" stroke="#111" stroke-width="0.9" />
<line x1="501.45" y1="538.18" x2="505.45" y2="538.18" stroke="#111" stroke-width="1" />
<line x1="503.45" y1="553.40" x2="503.45" y2="556.40" stroke="#1e1e1e" stroke-width="0.9" />
<text transform="translate(480.25,563.60) rotate(-45)" font-size="7.2" text-anchor="end" fill="#222">0</text>
<text transform="translate(489.65,563.60) rotate(-45)" font-size="7.2" text-anchor="end" fill="#222">7</text>
<text transform="translate(498.45,563.60) rotate(-45)" font-size="7.2" text-anchor="end" fill="#222">10</text>
<text transform="translate(507.65,563.60) rotate(-45)" font-size="7.2" text-anchor="end" fill="#222">14</text>
<text x="422.50" y="583.20" font-size="9.8" text-anchor="middle" font-weight="normal" fill="#222" textLength="18.8" lengthAdjust="spacingAndGlyphs">Days</text>
<rect x="446.30" y="428.30" width="12.10" height="7.50" fill="#2e4f8a" stroke="none" stroke-width="1" />
<text x="462.10" y="434.80" font-size="7.8" text-anchor="start" font-weight="normal" fill="#222" >OCI AML2</text>
<rect x="446.30" y="440.55" width="12.10" height="7.50" fill="#b30c30" stroke="none" stroke-width="1" />
<text x="462.10" y="447.05" font-size="7.8" text-anchor="start" font-weight="normal" fill="#222" >OCI AML3</text>
<rect x="446.30" y="452.80" width="12.10" height="7.50" fill="#73b843" stroke="none" stroke-width="1" />
<text x="462.10" y="459.30" font-size="7.8" text-anchor="start" font-weight="normal" fill="#222" >MV411</text>
<rect x="446.30" y="465.05" width="12.10" height="7.50" fill="#4b2a6c" stroke="none" stroke-width="1" />
<text x="462.10" y="471.55" font-size="7.8" text-anchor="start" font-weight="normal" fill="#222" >HL60</text>
</svg></body></html>
